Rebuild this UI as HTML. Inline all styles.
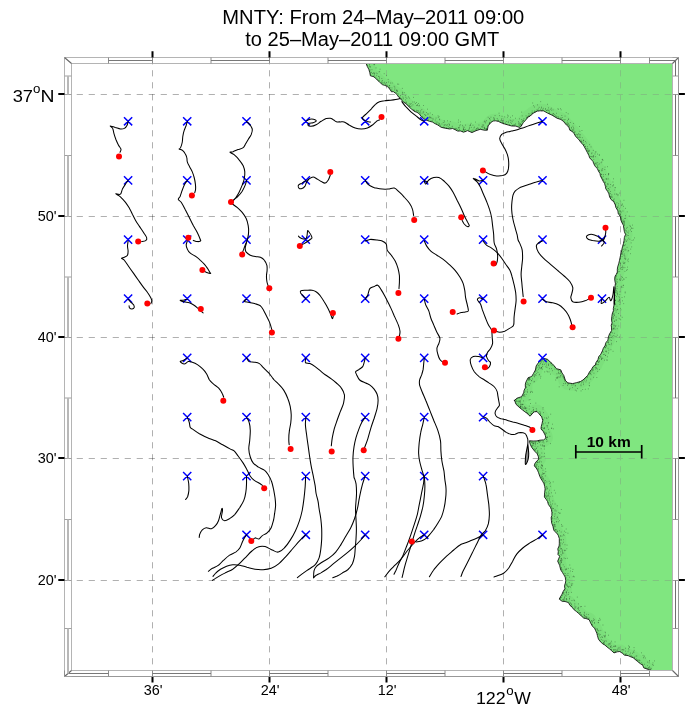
<!DOCTYPE html>
<html><head><meta charset="utf-8"><title>MNTY</title>
<style>html,body{margin:0;padding:0;background:#fff}svg{display:block}</style></head>
<body>
<svg width="691" height="710" viewBox="0 0 691 710">
<rect width="691" height="710" fill="#fff"/>
<defs><clipPath id="lc"><path d="M366.1 63.5L367.2 66.3L368.8 69.3L369.8 72.7L370.4 75.8L373.4 76.6L375.6 78.2L377.7 80.5L379.5 82L382.3 84.6L384.4 85.3L387 86.2L388.6 87.8L389.6 88.9L391.5 91.8L393.3 91.6L395.6 93.3L397.3 94.9L398.6 97.1L401.1 99.4L403.5 102.2L405.9 103.6L409.1 106.9L411.4 109L414.6 111.5L417 112.3L419.5 114L421 116.4L423.6 118.6L425.7 119.9L429.4 121.3L432.4 122L435.1 123.7L437.8 125L441 127.2L443.5 127.9L446 128.3L449.5 129L452.6 128.5L455 129.6L457.5 131L460.7 131L463.6 132.2L467.7 130.6L472 132.6L475.7 130.8L480.3 129.3L484.7 130.3L487.3 130.1L488.2 125.7L490.9 122.4L493.1 121L495.7 120.8L498.6 121.5L501 122.7L504.4 123.9L508.1 125L511.7 126L515.9 126.1L519.7 127.5L521.2 126.2L523.2 122.7L525.4 120.4L528.4 116.7L528.8 117L531.1 115.1L532.9 113.4L537.3 111.1L540.1 110.8L543.7 110.9L547.6 113.1L552.1 115.2L557 118.2L560.9 119.5L563.4 121.3L566.5 125.1L568.9 127.1L569.8 130.2L572.2 131.4L574 133.5L575.8 136.7L578 138.6L579.1 140L580.8 142.3L582.7 144.4L583.9 146L585.9 149.7L587.3 152.4L588.8 155.3L589.7 157.9L592.9 161.3L593.8 163.8L595.3 166.6L597.4 168.6L598.6 171.4L599.9 173.3L600.4 175.7L601.6 178.2L603.3 181.5L604.6 183.6L605.4 186.4L605.8 188.8L607.7 191.5L608.9 193.8L609.6 196.9L611.1 199.6L613.8 201.7L615.2 204.8L615.3 204.8L615.8 207.4L617.9 210.8L618.2 213.4L620.4 216.7L621 220L621.6 222L623.4 225.3L623.8 228.3L624.4 231.7L625.5 234.4L624.4 237.4L624 240.6L623.5 243.3L622.5 246.8L621.9 249.2L621.3 252.5L620.5 255.5L620 257.9L619.5 260.3L618.8 263.3L617.7 266.9L617.3 269.4L617.3 272.1L616.1 274.7L615.2 275.9L614.7 278.2L614.8 280.5L615.4 283.4L615 286.5L615.2 289.1L614.7 292L614.4 294.9L614.1 297.3L613.9 300.3L613.9 302.9L614 305.1L613.3 308.7L613.4 310.7L612.2 314L611.8 316.8L611.5 320.2L612.1 322.9L611.2 325.2L611.5 327.1L611.6 330.5L609.5 334L608.4 336.9L607.9 340.2L605.9 342.7L605.1 345.5L603.3 348.3L602.4 350.9L600.8 354.2L598.7 356.7L598 359.5L595.9 362.7L595.3 365L593.1 366.5L591.5 369.4L589.6 371.7L587.6 375.6L585.9 377.1L583 380L580.3 381.6L576.3 382.7L572.6 383.6L567.6 382.8L565.3 380.3L563.8 375.5L562 372.9L560.7 369.8L556.5 368.7L554 365.6L552.1 363.6L549.5 361.3L547.3 359.2L544.1 358.4L542 359.3L539.1 361.8L537.6 363.8L536.2 365.9L535.4 370L533.5 373.4L531.7 376.5L528.1 377.7L525.7 382.5L525.3 384.7L525.4 387.8L524.1 390.3L523.7 392.7L521.6 396.7L516.9 398.2L514.3 400.6L514.4 399.9L516 404.3L519.7 407.7L522.7 410.1L524.9 411.8L526.9 413.2L530.1 416.2L533.1 412.7L534.5 411.8L537.1 411.6L539 413.8L541.7 416.9L542.7 420.4L542 423.6L541.2 426.8L541 429L543.2 431.4L545.2 435.2L545.9 438L543.7 439.9L539.8 440.2L537 440.9L533.2 441L529.5 440.8L529.5 441.6L530.2 444.2L531.7 447.4L534.7 451.2L537.2 453.8L538.3 456.5L538.8 459.3L537 460.7L534.8 463.7L534.3 465.9L536.1 467.9L537.5 470.2L538.4 472.3L539.7 476.1L540.9 478.7L542.5 481.1L544 483.8L544.7 486.4L545.1 488.9L544.7 492.2L544.5 494.1L544.4 497L546.2 499.4L547.5 501.4L548.4 504.5L550.5 507.4L551.4 509.6L551.9 512.4L551.9 515.4L551.2 517.5L551.4 520.6L551.7 523.1L552.9 526.1L553.7 529.8L554.4 531.1L557.1 533.5L558.2 535.2L559.3 538.5L559.3 541L559.3 543.8L559.1 545.9L557.8 548.9L558.3 551.6L557.9 554.4L559.7 556.3L557.7 561.2L559.6 565.3L560.7 569.8L562.5 572.6L563.8 574.7L565.2 577.1L565.8 580.8L565.4 583L564.5 585.8L564.9 588.7L563.1 591.6L562 594.2L559.2 599.1L562.1 601.3L565 601.5L568.4 602.5L569.9 605.3L572.2 607.2L573.6 609.3L576.4 611.5L578.7 613.5L581.3 615.9L583.8 618.2L585.9 618.5L589.1 619.6L590.6 622.9L592.5 626.4L594.6 628.2L595.6 630.6L596.8 633.1L597.4 635.5L598.4 639L599.8 641L602.7 643.9L604.8 645L607 646.9L609.7 649L611.6 650.7L614 652.9L617.3 651.8L619.9 651.5L622.4 653.3L624.6 655.2L628.1 655.6L630.2 656.6L633.1 657.7L635 659.3L637.6 661.5L640.8 664L642.7 665.1L643.8 667.9L648.8 669.6L651.4 670.5L672.5 670.5L672.5 63.5Z"/></clipPath><clipPath id="mc"><rect x="71.5" y="63.5" width="601" height="607"/></clipPath></defs>
<g fill="none" stroke="#000" stroke-opacity="0.31" stroke-width="1" stroke-dasharray="6.2 5.8" ><path d="M152.5 63.5V670.5" stroke-dashoffset="-6.7"/><path d="M269.5 63.5V670.5" stroke-dashoffset="-6.7"/><path d="M386.5 63.5V670.5" stroke-dashoffset="-6.7"/><path d="M503.5 63.5V670.5" stroke-dashoffset="-6.7"/><path d="M620.5 63.5V670.5" stroke-dashoffset="-6.7"/><path d="M71.5 94.5H672.5" stroke-dashoffset="-5.2"/><path d="M71.5 216.5H672.5" stroke-dashoffset="-5.2"/><path d="M71.5 337.5H672.5" stroke-dashoffset="-5.2"/><path d="M71.5 458.5H672.5" stroke-dashoffset="-5.2"/><path d="M71.5 580.5H672.5" stroke-dashoffset="-5.2"/></g>
<path d="M366.1 63.5L367.2 66.3L368.8 69.3L369.8 72.7L370.4 75.8L373.4 76.6L375.6 78.2L377.7 80.5L379.5 82L382.3 84.6L384.4 85.3L387 86.2L388.6 87.8L389.6 88.9L391.5 91.8L393.3 91.6L395.6 93.3L397.3 94.9L398.6 97.1L401.1 99.4L403.5 102.2L405.9 103.6L409.1 106.9L411.4 109L414.6 111.5L417 112.3L419.5 114L421 116.4L423.6 118.6L425.7 119.9L429.4 121.3L432.4 122L435.1 123.7L437.8 125L441 127.2L443.5 127.9L446 128.3L449.5 129L452.6 128.5L455 129.6L457.5 131L460.7 131L463.6 132.2L467.7 130.6L472 132.6L475.7 130.8L480.3 129.3L484.7 130.3L487.3 130.1L488.2 125.7L490.9 122.4L493.1 121L495.7 120.8L498.6 121.5L501 122.7L504.4 123.9L508.1 125L511.7 126L515.9 126.1L519.7 127.5L521.2 126.2L523.2 122.7L525.4 120.4L528.4 116.7L528.8 117L531.1 115.1L532.9 113.4L537.3 111.1L540.1 110.8L543.7 110.9L547.6 113.1L552.1 115.2L557 118.2L560.9 119.5L563.4 121.3L566.5 125.1L568.9 127.1L569.8 130.2L572.2 131.4L574 133.5L575.8 136.7L578 138.6L579.1 140L580.8 142.3L582.7 144.4L583.9 146L585.9 149.7L587.3 152.4L588.8 155.3L589.7 157.9L592.9 161.3L593.8 163.8L595.3 166.6L597.4 168.6L598.6 171.4L599.9 173.3L600.4 175.7L601.6 178.2L603.3 181.5L604.6 183.6L605.4 186.4L605.8 188.8L607.7 191.5L608.9 193.8L609.6 196.9L611.1 199.6L613.8 201.7L615.2 204.8L615.3 204.8L615.8 207.4L617.9 210.8L618.2 213.4L620.4 216.7L621 220L621.6 222L623.4 225.3L623.8 228.3L624.4 231.7L625.5 234.4L624.4 237.4L624 240.6L623.5 243.3L622.5 246.8L621.9 249.2L621.3 252.5L620.5 255.5L620 257.9L619.5 260.3L618.8 263.3L617.7 266.9L617.3 269.4L617.3 272.1L616.1 274.7L615.2 275.9L614.7 278.2L614.8 280.5L615.4 283.4L615 286.5L615.2 289.1L614.7 292L614.4 294.9L614.1 297.3L613.9 300.3L613.9 302.9L614 305.1L613.3 308.7L613.4 310.7L612.2 314L611.8 316.8L611.5 320.2L612.1 322.9L611.2 325.2L611.5 327.1L611.6 330.5L609.5 334L608.4 336.9L607.9 340.2L605.9 342.7L605.1 345.5L603.3 348.3L602.4 350.9L600.8 354.2L598.7 356.7L598 359.5L595.9 362.7L595.3 365L593.1 366.5L591.5 369.4L589.6 371.7L587.6 375.6L585.9 377.1L583 380L580.3 381.6L576.3 382.7L572.6 383.6L567.6 382.8L565.3 380.3L563.8 375.5L562 372.9L560.7 369.8L556.5 368.7L554 365.6L552.1 363.6L549.5 361.3L547.3 359.2L544.1 358.4L542 359.3L539.1 361.8L537.6 363.8L536.2 365.9L535.4 370L533.5 373.4L531.7 376.5L528.1 377.7L525.7 382.5L525.3 384.7L525.4 387.8L524.1 390.3L523.7 392.7L521.6 396.7L516.9 398.2L514.3 400.6L514.4 399.9L516 404.3L519.7 407.7L522.7 410.1L524.9 411.8L526.9 413.2L530.1 416.2L533.1 412.7L534.5 411.8L537.1 411.6L539 413.8L541.7 416.9L542.7 420.4L542 423.6L541.2 426.8L541 429L543.2 431.4L545.2 435.2L545.9 438L543.7 439.9L539.8 440.2L537 440.9L533.2 441L529.5 440.8L529.5 441.6L530.2 444.2L531.7 447.4L534.7 451.2L537.2 453.8L538.3 456.5L538.8 459.3L537 460.7L534.8 463.7L534.3 465.9L536.1 467.9L537.5 470.2L538.4 472.3L539.7 476.1L540.9 478.7L542.5 481.1L544 483.8L544.7 486.4L545.1 488.9L544.7 492.2L544.5 494.1L544.4 497L546.2 499.4L547.5 501.4L548.4 504.5L550.5 507.4L551.4 509.6L551.9 512.4L551.9 515.4L551.2 517.5L551.4 520.6L551.7 523.1L552.9 526.1L553.7 529.8L554.4 531.1L557.1 533.5L558.2 535.2L559.3 538.5L559.3 541L559.3 543.8L559.1 545.9L557.8 548.9L558.3 551.6L557.9 554.4L559.7 556.3L557.7 561.2L559.6 565.3L560.7 569.8L562.5 572.6L563.8 574.7L565.2 577.1L565.8 580.8L565.4 583L564.5 585.8L564.9 588.7L563.1 591.6L562 594.2L559.2 599.1L562.1 601.3L565 601.5L568.4 602.5L569.9 605.3L572.2 607.2L573.6 609.3L576.4 611.5L578.7 613.5L581.3 615.9L583.8 618.2L585.9 618.5L589.1 619.6L590.6 622.9L592.5 626.4L594.6 628.2L595.6 630.6L596.8 633.1L597.4 635.5L598.4 639L599.8 641L602.7 643.9L604.8 645L607 646.9L609.7 649L611.6 650.7L614 652.9L617.3 651.8L619.9 651.5L622.4 653.3L624.6 655.2L628.1 655.6L630.2 656.6L633.1 657.7L635 659.3L637.6 661.5L640.8 664L642.7 665.1L643.8 667.9L648.8 669.6L651.4 670.5L672.5 670.5L672.5 63.5Z" fill="#80e680"/>
<g fill="none" stroke="#808080" stroke-width="1" stroke-dasharray="6.2 5.8" clip-path="url(#lc)" opacity="0.33"><path d="M152.5 63.5V670.5" stroke-dashoffset="-6.7"/><path d="M269.5 63.5V670.5" stroke-dashoffset="-6.7"/><path d="M386.5 63.5V670.5" stroke-dashoffset="-6.7"/><path d="M503.5 63.5V670.5" stroke-dashoffset="-6.7"/><path d="M620.5 63.5V670.5" stroke-dashoffset="-6.7"/><path d="M71.5 94.5H672.5" stroke-dashoffset="-5.2"/><path d="M71.5 216.5H672.5" stroke-dashoffset="-5.2"/><path d="M71.5 337.5H672.5" stroke-dashoffset="-5.2"/><path d="M71.5 458.5H672.5" stroke-dashoffset="-5.2"/><path d="M71.5 580.5H672.5" stroke-dashoffset="-5.2"/></g>
<path d="M366.1 63.5L367.2 66.3L368.8 69.3L369.8 72.7L370.4 75.8L373.4 76.6L375.6 78.2L377.7 80.5L379.5 82L382.3 84.6L384.4 85.3L387 86.2L388.6 87.8L389.6 88.9L391.5 91.8L393.3 91.6L395.6 93.3L397.3 94.9L398.6 97.1L401.1 99.4L403.5 102.2L405.9 103.6L409.1 106.9L411.4 109L414.6 111.5L417 112.3L419.5 114L421 116.4L423.6 118.6L425.7 119.9L429.4 121.3L432.4 122L435.1 123.7L437.8 125L441 127.2L443.5 127.9L446 128.3L449.5 129L452.6 128.5L455 129.6L457.5 131L460.7 131L463.6 132.2L467.7 130.6L472 132.6L475.7 130.8L480.3 129.3L484.7 130.3L487.3 130.1L488.2 125.7L490.9 122.4L493.1 121L495.7 120.8L498.6 121.5L501 122.7L504.4 123.9L508.1 125L511.7 126L515.9 126.1L519.7 127.5L521.2 126.2L523.2 122.7L525.4 120.4L528.4 116.7L528.8 117L531.1 115.1L532.9 113.4L537.3 111.1L540.1 110.8L543.7 110.9L547.6 113.1L552.1 115.2L557 118.2L560.9 119.5L563.4 121.3L566.5 125.1L568.9 127.1L569.8 130.2L572.2 131.4L574 133.5L575.8 136.7L578 138.6L579.1 140L580.8 142.3L582.7 144.4L583.9 146L585.9 149.7L587.3 152.4L588.8 155.3L589.7 157.9L592.9 161.3L593.8 163.8L595.3 166.6L597.4 168.6L598.6 171.4L599.9 173.3L600.4 175.7L601.6 178.2L603.3 181.5L604.6 183.6L605.4 186.4L605.8 188.8L607.7 191.5L608.9 193.8L609.6 196.9L611.1 199.6L613.8 201.7L615.2 204.8L615.3 204.8L615.8 207.4L617.9 210.8L618.2 213.4L620.4 216.7L621 220L621.6 222L623.4 225.3L623.8 228.3L624.4 231.7L625.5 234.4L624.4 237.4L624 240.6L623.5 243.3L622.5 246.8L621.9 249.2L621.3 252.5L620.5 255.5L620 257.9L619.5 260.3L618.8 263.3L617.7 266.9L617.3 269.4L617.3 272.1L616.1 274.7L615.2 275.9L614.7 278.2L614.8 280.5L615.4 283.4L615 286.5L615.2 289.1L614.7 292L614.4 294.9L614.1 297.3L613.9 300.3L613.9 302.9L614 305.1L613.3 308.7L613.4 310.7L612.2 314L611.8 316.8L611.5 320.2L612.1 322.9L611.2 325.2L611.5 327.1L611.6 330.5L609.5 334L608.4 336.9L607.9 340.2L605.9 342.7L605.1 345.5L603.3 348.3L602.4 350.9L600.8 354.2L598.7 356.7L598 359.5L595.9 362.7L595.3 365L593.1 366.5L591.5 369.4L589.6 371.7L587.6 375.6L585.9 377.1L583 380L580.3 381.6L576.3 382.7L572.6 383.6L567.6 382.8L565.3 380.3L563.8 375.5L562 372.9L560.7 369.8L556.5 368.7L554 365.6L552.1 363.6L549.5 361.3L547.3 359.2L544.1 358.4L542 359.3L539.1 361.8L537.6 363.8L536.2 365.9L535.4 370L533.5 373.4L531.7 376.5L528.1 377.7L525.7 382.5L525.3 384.7L525.4 387.8L524.1 390.3L523.7 392.7L521.6 396.7L516.9 398.2L514.3 400.6L514.4 399.9L516 404.3L519.7 407.7L522.7 410.1L524.9 411.8L526.9 413.2L530.1 416.2L533.1 412.7L534.5 411.8L537.1 411.6L539 413.8L541.7 416.9L542.7 420.4L542 423.6L541.2 426.8L541 429L543.2 431.4L545.2 435.2L545.9 438L543.7 439.9L539.8 440.2L537 440.9L533.2 441L529.5 440.8L529.5 441.6L530.2 444.2L531.7 447.4L534.7 451.2L537.2 453.8L538.3 456.5L538.8 459.3L537 460.7L534.8 463.7L534.3 465.9L536.1 467.9L537.5 470.2L538.4 472.3L539.7 476.1L540.9 478.7L542.5 481.1L544 483.8L544.7 486.4L545.1 488.9L544.7 492.2L544.5 494.1L544.4 497L546.2 499.4L547.5 501.4L548.4 504.5L550.5 507.4L551.4 509.6L551.9 512.4L551.9 515.4L551.2 517.5L551.4 520.6L551.7 523.1L552.9 526.1L553.7 529.8L554.4 531.1L557.1 533.5L558.2 535.2L559.3 538.5L559.3 541L559.3 543.8L559.1 545.9L557.8 548.9L558.3 551.6L557.9 554.4L559.7 556.3L557.7 561.2L559.6 565.3L560.7 569.8L562.5 572.6L563.8 574.7L565.2 577.1L565.8 580.8L565.4 583L564.5 585.8L564.9 588.7L563.1 591.6L562 594.2L559.2 599.1L562.1 601.3L565 601.5L568.4 602.5L569.9 605.3L572.2 607.2L573.6 609.3L576.4 611.5L578.7 613.5L581.3 615.9L583.8 618.2L585.9 618.5L589.1 619.6L590.6 622.9L592.5 626.4L594.6 628.2L595.6 630.6L596.8 633.1L597.4 635.5L598.4 639L599.8 641L602.7 643.9L604.8 645L607 646.9L609.7 649L611.6 650.7L614 652.9L617.3 651.8L619.9 651.5L622.4 653.3L624.6 655.2L628.1 655.6L630.2 656.6L633.1 657.7L635 659.3L637.6 661.5L640.8 664L642.7 665.1L643.8 667.9L648.8 669.6L651.4 670.5" fill="none" stroke="#206020" stroke-opacity="0.05" stroke-width="14" stroke-linejoin="round" clip-path="url(#lc)"/>
<path d="M366.7 64.3h.7M373.4 63.8h.7M369.2 64.4h.7M367 65.5h.7M368.9 66.4h.7M373.9 64.5h.7M373.4 63.7h.7M369.1 65.1h.7M369.8 67h.7M369.9 66.8h.7M373.9 64.7h.7M371.6 69.7h.7M369.7 71h.7M370.5 72.7h.7M379.7 69.2h.7M375.7 67.9h.7M369.7 69.8h.7M375.8 73h.7M373.7 72.7h.7M371.2 72.4h.7M370.2 74.1h.7M378.7 71.8h.7M374.1 73.9h.7M372.3 73.5h.7M373.3 76.5h.7M373.3 76h.7M374.2 73.8h.7M373.3 73.1h.7M375.6 77.2h.7M374.3 75.9h.7M376.4 75.4h.7M376.8 73.6h.7M379.4 71.6h.7M378.1 76.4h.7M377.3 79.2h.7M377.9 80.2h.7M379.3 77.7h.7M378.7 76.5h.7M381.5 78.5h.7M383.8 73.7h.7M379.1 80.5h.7M379.2 78.8h.7M381.5 81.2h.7M381.3 83h.7M381.6 82.4h.7M382.2 83.2h.7M382 80.6h.7M384.2 82.2h.7M384.7 83.4h.7M383.5 82.9h.7M386 75.4h.7M388 82h.7M387.8 79.4h.7M387.1 85.3h.7M385.2 84.4h.7M386 82.5h.7M388.5 86.4h.7M389.1 85.6h.7M389.4 85.5h.7M390.2 83h.7M389.6 88h.7M388.8 87.8h.7M389.5 87.6h.7M391.6 90.1h.7M398.4 84.2h.7M394.5 87.2h.7M397.2 84.1h.7M394.6 88.9h.7M393.8 86.3h.7M391.8 83h.7M391.3 90.2h.7M391.6 87.9h.7M396.4 90.6h.7M396.3 90h.7M396.8 90.3h.7M396.7 91.1h.7M394.4 90.1h.7M395.8 92.3h.7M395.6 92.9h.7M397 93.9h.7M397.1 91.4h.7M401.9 88.4h.7M402 92.3h.7M403.9 92.6h.7M398 94.1h.7M400.1 95.5h.7M402.1 93.1h.7M399 97.4h.7M400.9 99.1h.7M402.5 94.4h.7M399.9 97.2h.7M402.5 97h.7M401.1 98.9h.7M399 97.2h.7M408.3 96.9h.7M405.5 97.3h.7M406.5 98.3h.7M405.2 99.9h.7M402.6 99.1h.7M404.9 95.6h.7M403 98.1h.7M406.1 102h.7M406.2 103.2h.7M405.6 102.7h.7M409.1 98.1h.7M404.6 102.1h.7M406.7 104.4h.7M409.2 105.4h.7M408.8 106.2h.7M410.2 104.2h.7M410.8 103.6h.7M413 97.4h.7M408.8 103.8h.7M412.5 102h.7M408.5 105.3h.7M416.3 102.5h.7M412.6 104.8h.7M410 106.5h.7M411.5 106h.7M415 103.5h.7M414.1 102h.7M416 105.5h.7M414.3 111h.7M414.1 110.6h.7M413.3 110.1h.7M417.4 105.5h.7M419 105.3h.7M413.6 109.7h.7M417 104.6h.7M416.2 110.3h.7M417.6 110.5h.7M418.2 103.5h.7M418.7 105.9h.7M416.8 111.1h.7M419.1 112.5h.7M423 105.5h.7M420.2 112h.7M420.5 110.7h.7M418.4 111.2h.7M421.5 109.5h.7M423.4 112h.7M420.6 113.3h.7M422.6 113.2h.7M422.8 112h.7M426 112.5h.7M424 114.5h.7M423.6 117.3h.7M425.4 115.2h.7M422.2 116.4h.7M425.4 115.3h.7M427.3 109.2h.7M424.7 119h.7M425.8 119.6h.7M427.6 113.9h.7M429.8 113h.7M429.5 116.6h.7M426.7 119.5h.7M427.9 119.3h.7M430.1 117.7h.7M429.3 117.7h.7M427.7 114.1h.7M429.8 117.7h.7M427.8 120.4h.7M431.2 118h.7M431.9 120.8h.7M432.6 118.4h.7M432.1 114.6h.7M430.6 120.9h.7M432.7 119.4h.7M438.7 116.6h.7M437.9 117.4h.7M435.7 118.1h.7M434.9 120h.7M437.7 115.8h.7M436.2 123.6h.7M437.9 123.1h.7M439.4 119.8h.7M439 119.2h.7M436.8 122.1h.7M435.7 122.1h.7M438.4 124.4h.7M439.2 124.3h.7M443.8 120.6h.7M442.9 122.5h.7M439.2 123.4h.7M440 125.3h.7M441.6 124h.7M443.1 127.1h.7M442.7 127.5h.7M443.8 124.9h.7M443.9 125.2h.7M444 121.9h.7M444.2 127.5h.7M445.9 128.2h.7M446.1 128h.7M445.4 124.8h.7M446.4 125.3h.7M448.6 123.9h.7M449 124.6h.7M449.4 127.5h.7M447.8 126.6h.7M447.3 124.8h.7M448.3 128.4h.7M447.3 120.8h.7M451.7 127.2h.7M449.9 121.6h.7M449.9 128h.7M449 125.3h.7M451.9 126.3h.7M455.8 128.5h.7M454.4 128.6h.7M454.8 129.4h.7M457.9 122.2h.7M458.1 120h.7M459.9 124.8h.7M457 129.6h.7M456.1 130h.7M455.5 128.3h.7M460.1 121.9h.7M459.4 125.9h.7M459 127.7h.7M458.2 130.9h.7M457.9 128h.7M458.1 127.6h.7M459 129.4h.7M464 129.9h.7M462.2 131h.7M464 131h.7M465.2 125.1h.7M462 131.5h.7M462.7 126.8h.7M463.3 128.9h.7M463.2 130.1h.7M462.2 125.4h.7M463.4 129.6h.7M462.9 129.4h.7M463.9 127.3h.7M463.3 128.1h.7M465.1 131.6h.7M465.1 129.4h.7M470.9 127.4h.7M473.6 127.9h.7M472.6 125.2h.7M469.1 127.3h.7M470.8 132.1h.7M470.8 131h.7M468.5 129.3h.7M468.4 131h.7M469.2 128.7h.7M472.6 131.5h.7M470 124.7h.7M470.1 125.3h.7M474.8 131.1h.7M475.2 129.8h.7M473.5 130.2h.7M469.6 125.5h.7M470.7 123.3h.7M471.9 130.1h.7M478 128.9h.7M476 128.5h.7M479.9 128.8h.7M476.1 130.3h.7M477.6 128.1h.7M477.2 128.1h.7M476.3 129.2h.7M474.3 127.1h.7M475 122.1h.7M481.9 125h.7M482.2 126.8h.7M484.7 128.6h.7M485.5 121.7h.7M485.2 122.9h.7M484.1 128.3h.7M484.4 128.8h.7M484.2 121.1h.7M482.6 127.1h.7M486.4 129.8h.7M485.8 129.4h.7M486.6 129.8h.7M485.9 120.5h.7M487.1 130h.7M483.4 125h.7M483.8 127.2h.7M481 126.8h.7M486.1 128.5h.7M487.2 126.2h.7M484 127.7h.7M482.8 125.2h.7M478.6 125h.7M486.1 128.8h.7M483.9 121.9h.7M489.4 122.8h.7M489.8 123.1h.7M489 122.4h.7M489.2 123.9h.7M488.2 125.5h.7M488.9 123.6h.7M489.3 118.8h.7M487.8 117.3h.7M489.4 118.6h.7M490 120.1h.7M490.6 117.2h.7M494.7 115.6h.7M493.7 119.1h.7M493.8 118.3h.7M493.4 117.7h.7M493.9 119.5h.7M497.9 120.6h.7M496.8 118.5h.7M498.2 120.3h.7M498.7 113.2h.7M499.1 115.6h.7M497.1 120.2h.7M501.7 116.3h.7M501.5 118.6h.7M501.1 119.7h.7M500 121h.7M501.2 120.6h.7M502 122.3h.7M502.4 120.5h.7M507.3 115.1h.7M502.8 120.7h.7M504.4 116.9h.7M502.4 121.8h.7M503.2 122.8h.7M505 123h.7M507.9 121.3h.7M505.9 121.5h.7M507.9 122.5h.7M506.4 124.3h.7M507 117.2h.7M508.1 116h.7M509.7 120.1h.7M511.8 121.6h.7M510.6 120.6h.7M510.1 117.3h.7M512.7 120.2h.7M509.3 124.6h.7M511 123.4h.7M510.4 122.4h.7M512.6 125.2h.7M515 123.8h.7M514.7 124.7h.7M512.3 125.5h.7M513.6 125.1h.7M512.3 115.8h.7M513.8 125.1h.7M522 121.6h.7M519.4 127.2h.7M520.8 124.7h.7M518.2 123.1h.7M519 123h.7M521.1 119.6h.7M519.6 125.9h.7M518.7 124.9h.7M521 125.8h.7M518.7 124h.7M518.9 125.2h.7M520.3 124.3h.7M520.6 124.9h.7M520.9 125.6h.7M515 118.3h.7M521 122h.7M518.3 121.6h.7M521.3 125h.7M520.1 123.6h.7M522.8 120.2h.7M519.3 118.8h.7M522.4 121h.7M522.8 120.2h.7M523.3 120.6h.7M523.6 118.6h.7M527.9 116h.7M521.8 115.9h.7M527.2 116.7h.7M526.8 117.7h.7M521.4 112.1h.7M525.7 115.8h.7M526.4 117.4h.7M528 116.3h.7M526.6 117.9h.7M528.9 115.7h.7M529.2 116.3h.7M528.4 113.8h.7M529.6 114h.7M530.7 115.3h.7M531.9 114h.7M531.9 112.7h.7M532.3 113.3h.7M531.1 113.1h.7M531.8 111h.7M534.4 111.2h.7M536.8 110.1h.7M533.3 105.7h.7M532.4 103h.7M534.1 107h.7M535.1 111.8h.7M536.6 110.1h.7M534.2 111.3h.7M537.9 108.9h.7M537.2 104.9h.7M538.8 107.3h.7M540 109.3h.7M537.8 110.9h.7M541 110.8h.7M542.9 108.3h.7M540.4 101.7h.7M541 107.1h.7M541.1 108h.7M542.5 110.3h.7M542.5 109.3h.7M548.1 107.9h.7M547.3 104.3h.7M545.3 109h.7M546.3 110.5h.7M547.1 110.1h.7M548.5 110.4h.7M546.6 110.3h.7M545 108.9h.7M548.6 110.2h.7M548.9 111.8h.7M552 114.7h.7M552.7 113.6h.7M551.2 110.1h.7M550 109.2h.7M552.7 109.9h.7M548.8 112.8h.7M551 108.2h.7M549.1 113.7h.7M557.5 108.8h.7M555.5 115.4h.7M556.2 113.3h.7M558 109.3h.7M553.1 113.6h.7M553.2 115.4h.7M560.2 108.7h.7M556.1 117h.7M554.7 116.3h.7M556.7 116.6h.7M554 114.5h.7M558.3 116.9h.7M560.8 109.9h.7M558.4 118.1h.7M560.2 118h.7M561.5 115.5h.7M561 118.2h.7M561.9 117.5h.7M562.4 119.8h.7M567.8 113.8h.7M564.7 116.1h.7M565.8 112.6h.7M564.7 119.5h.7M563.6 119.7h.7M568.3 119.1h.7M568 119.3h.7M565.5 122.9h.7M567.3 120.8h.7M567.9 123.5h.7M567.2 124.3h.7M563.8 121.2h.7M566.4 123.4h.7M569.9 122.5h.7M567.4 122.7h.7M567.5 124.4h.7M567.9 124.8h.7M569.3 125.2h.7M568 126.1h.7M569 126.1h.7M571.3 127.4h.7M573.5 128.8h.7M572.6 126.2h.7M570 129.8h.7M573.2 127.7h.7M571 128.2h.7M571.8 131.1h.7M571.9 129.7h.7M572.1 131.1h.7M573.3 123.5h.7M572.8 129.8h.7M574.4 132.2h.7M574.2 132.8h.7M574.7 131.8h.7M579 126.5h.7M573.5 130.8h.7M576 134.3h.7M575.2 134.7h.7M581.6 130.5h.7M578.9 134.4h.7M578.2 133.7h.7M579.5 131.3h.7M578.9 136.1h.7M577 135h.7M580.3 134.8h.7M578.3 137.4h.7M577.5 134.6h.7M577.1 136.9h.7M581.9 137.7h.7M579.3 137.4h.7M580 137.3h.7M580.7 140h.7M581.1 142h.7M580.7 140.9h.7M579.9 141h.7M582.9 140.2h.7M585 141.5h.7M581.6 141.8h.7M583 140.8h.7M583.4 140.4h.7M581.2 141.8h.7M582.8 142.6h.7M585.8 143h.7M583.8 144.7h.7M583.4 144.7h.7M583.7 144.6h.7M585.1 146.5h.7M590.7 146.9h.7M587.3 146.7h.7M585.3 146.3h.7M586.9 148.6h.7M585.7 148.7h.7M587.7 149.1h.7M589.1 144.6h.7M587.8 151.5h.7M588.1 150.6h.7M587.3 150.4h.7M588.5 151.6h.7M588.8 151.1h.7M589.1 150.3h.7M595 152h.7M595.7 151.9h.7M591.6 152.8h.7M592.9 150.4h.7M591.4 153.7h.7M588.1 153.2h.7M593.4 156.1h.7M597.2 154.1h.7M592.7 156.3h.7M590.3 156.6h.7M591.3 156.7h.7M593.2 155.9h.7M591.7 156.7h.7M593.5 159.4h.7M594.7 153.9h.7M598.9 154.7h.7M598.9 155.3h.7M592.8 157.3h.7M595.1 156.7h.7M594.6 163.3h.7M595.9 162.9h.7M601.9 159.4h.7M597.4 162.6h.7M601.9 159.7h.7M594.6 164.2h.7M595.1 163.3h.7M597.7 164.3h.7M601.5 161.9h.7M600.8 162.7h.7M596.1 164.1h.7M597.4 165.9h.7M596.9 167.3h.7M602.6 160.3h.7M597.7 167.5h.7M597 166.2h.7M599.3 163.9h.7M598.9 170.7h.7M604.7 167.1h.7M599.3 170.7h.7M601.6 169.3h.7M598.6 171.1h.7M602.4 168.7h.7M607.1 166.7h.7M604.5 169.5h.7M601.7 170.5h.7M601.5 170.8h.7M601.1 174.3h.7M601.3 174.5h.7M608.2 173.9h.7M605.1 174.5h.7M608.5 173.8h.7M603.3 176.3h.7M601.5 177.1h.7M608.2 174h.7M602.9 174.5h.7M600.6 176h.7M605.7 178.9h.7M603.5 179.6h.7M606.5 179.1h.7M601.9 178.1h.7M608.2 174.9h.7M603.3 180.1h.7M606.4 178.9h.7M605.2 182.1h.7M604.2 182h.7M607.9 178.9h.7M604.8 182.8h.7M613.1 178.8h.7M607.6 184.6h.7M607.6 184.2h.7M612.6 182h.7M607.5 183.5h.7M610.2 184.5h.7M606.5 186.2h.7M612.9 185.8h.7M609.7 187.2h.7M606 186.6h.7M613.1 184.7h.7M608.8 189.7h.7M607.8 190.7h.7M607.7 188.5h.7M608.3 188.5h.7M612.1 185.9h.7M609.2 193.1h.7M615.3 187.7h.7M614.5 190.1h.7M614.5 187.7h.7M610.1 191.5h.7M611.5 194.7h.7M616.7 194.2h.7M610.5 196.3h.7M609.9 196.6h.7M611.4 196.2h.7M610.3 193.6h.7M610.1 197.1h.7M611.8 197h.7M614.4 194.1h.7M617.7 194.6h.7M611.5 197.5h.7M613.4 200h.7M617.6 195.6h.7M613.8 201.5h.7M613.8 199h.7M613.3 200.3h.7M616.3 194h.7M619.5 193.1h.7M618.1 203.8h.7M615.5 203.9h.7M616.6 202.7h.7M619.9 201.1h.7M623.6 200.3h.7M617.2 207.4h.7M617.9 205.8h.7M616.7 206.7h.7M621.7 205h.7M615.3 204.6h.7M622.2 204h.7M617.4 209.8h.7M619.1 208.8h.7M617.1 208.1h.7M623.1 206.3h.7M617.7 207.3h.7M621.2 205.3h.7M619.6 210.5h.7M620.9 212.1h.7M618.9 211.8h.7M619.9 211.2h.7M620 211.9h.7M625 208.4h.7M620.4 213.7h.7M618.5 213.5h.7M619.2 213.7h.7M620.1 215h.7M626.8 211.9h.7M620 214.6h.7M622.6 211h.7M620.9 216.9h.7M628.8 216.1h.7M625 215.8h.7M621.4 219.2h.7M624.4 218.5h.7M625.2 218.4h.7M621.3 218.1h.7M621.9 220.9h.7M623.3 221.7h.7M623 220.1h.7M624 221.1h.7M624.3 224.9h.7M623.8 222.2h.7M622 222.3h.7M624.3 222.1h.7M622.8 221.8h.7M622.9 223.4h.7M624 223.6h.7M626.9 227.4h.7M624 225.2h.7M632.1 225.1h.7M630.2 226.6h.7M629.6 225.7h.7M624.3 228.2h.7M626.2 228.3h.7M625.1 230h.7M631.5 228.5h.7M630.3 229.9h.7M625.8 230.5h.7M632.6 228.3h.7M631.2 227.9h.7M626.9 232.2h.7M628.5 231h.7M625.8 231.6h.7M631.3 231.5h.7M628 233h.7M633 239.9h.7M627 235.3h.7M626 234.3h.7M628.1 235.5h.7M634.2 237.9h.7M625.9 236.1h.7M627.4 239.9h.7M629.5 239.3h.7M628.4 238.2h.7M625.1 239.8h.7M631.7 240.4h.7M623.6 242.5h.7M626 241.2h.7M624.2 241.8h.7M630.8 242.9h.7M625.8 241.2h.7M631.4 246.9h.7M623.7 245.8h.7M623 245.1h.7M626.7 247.4h.7M624.1 245.4h.7M622.8 246h.7M625.2 244.8h.7M625.6 249.8h.7M622.9 249.4h.7M630.4 249.1h.7M624.7 248.9h.7M622.2 252.2h.7M622.2 249.9h.7M624.6 250.1h.7M628.4 250.6h.7M630.3 253.7h.7M623 251.7h.7M627.7 251h.7M621.5 254.2h.7M623.9 254h.7M622.4 254.2h.7M623.7 255.3h.7M624.5 256h.7M621.7 253.4h.7M624.6 257.2h.7M625.4 258.8h.7M627.9 259h.7M621.7 256.5h.7M624.1 258.6h.7M627.4 260.1h.7M625.3 259.1h.7M627.8 261.6h.7M620.2 259h.7M620.3 258.2h.7M622.8 262.2h.7M624 263.4h.7M624.5 262.5h.7M620.1 263.5h.7M619.8 262.9h.7M623.3 263.5h.7M622 266.1h.7M621.1 267.5h.7M622.6 267.3h.7M627 267.1h.7M620.3 265h.7M624.6 267.6h.7M622.6 267.8h.7M622.2 269.4h.7M626.9 269.6h.7M617.8 269.6h.7M619.9 268.3h.7M619.4 271.5h.7M626.1 270.3h.7M624.6 271.4h.7M618.2 271.7h.7M620.7 269.4h.7M625.7 277.6h.7M617.2 273h.7M617.2 273h.7M621.4 276.7h.7M615.4 275.8h.7M615.8 276.2h.7M616.1 275.8h.7M622.1 277.5h.7M615.6 278.3h.7M623.8 279.2h.7M620.7 278.9h.7M615.4 277.9h.7M614.9 280.2h.7M619.1 279.1h.7M619.4 279.9h.7M617.2 279.3h.7M620.1 280.3h.7M617.1 282.1h.7M616 279.9h.7M622.4 280.3h.7M616.4 281.8h.7M623.2 279h.7M621.4 286.4h.7M615.6 283.7h.7M615.9 283.9h.7M622.6 287.3h.7M623.1 285.3h.7M615.5 284.2h.7M616.8 286.4h.7M616.7 288.6h.7M621.1 287.3h.7M615.4 288.1h.7M622.8 285.4h.7M617.1 292h.7M624.8 292h.7M616.1 290.4h.7M624.8 292.9h.7M616.3 292h.7M619.6 291.8h.7M617.4 294.9h.7M619.5 294.6h.7M615.3 292.3h.7M617.2 294h.7M616.8 293.5h.7M624.1 296.8h.7M621.7 297.5h.7M618.6 296.6h.7M615.3 295.3h.7M616 296.6h.7M614.8 300.2h.7M615.1 300.3h.7M619 299.5h.7M614.3 299.6h.7M619.1 297.8h.7M618.8 300.8h.7M619.6 302.2h.7M622.1 300.8h.7M617.8 301.3h.7M619.3 300.4h.7M615 300.5h.7M619.5 304.4h.7M623.4 303.6h.7M615.4 304.5h.7M614.7 303.4h.7M617.4 309.3h.7M620.1 308.4h.7M616.6 306.2h.7M614.4 304.8h.7M620.6 309.8h.7M614.5 308.8h.7M616.4 310.1h.7M614.8 308.8h.7M614.6 310.4h.7M617.4 309.6h.7M612.7 313.5h.7M621.8 317.3h.7M618.3 313.5h.7M613.1 311.8h.7M613.9 313.9h.7M615.7 312.1h.7M613 314.7h.7M620.4 315.9h.7M613.2 316.4h.7M614.1 315.1h.7M614.1 315.6h.7M618.7 318.3h.7M615.7 317h.7M612.9 318.6h.7M616.3 320h.7M613 317.8h.7M611.8 317.8h.7M612.3 320h.7M615.6 320h.7M620.4 319.8h.7M613.9 321.4h.7M619.6 319h.7M614.2 321.1h.7M613.8 325.7h.7M613.6 324.2h.7M613.5 325.9h.7M612.1 324.4h.7M615.5 325.5h.7M615 326.6h.7M618.5 326h.7M613 328.9h.7M613 328.1h.7M612.8 328.5h.7M614.7 329.2h.7M616.8 328.7h.7M614.3 328.1h.7M612.6 329.4h.7M616.9 335.2h.7M615.9 336.8h.7M611.3 332.4h.7M619.1 337h.7M613.9 333.3h.7M612.2 332.9h.7M613.5 335.5h.7M609.7 334.5h.7M612.6 337.8h.7M612.4 336.3h.7M610.5 335.4h.7M614.7 336.7h.7M611.2 337.4h.7M609.8 340h.7M610.6 337.4h.7M609 337.3h.7M616.2 341.6h.7M608.8 338.2h.7M611 340.5h.7M608.3 341h.7M607.2 342.5h.7M611.2 343.3h.7M608 342.2h.7M608.2 342.6h.7M608 344.1h.7M610.8 344.7h.7M605.5 345.4h.7M609 344.5h.7M605.8 345.8h.7M606.1 345.1h.7M607.7 348.3h.7M610.6 349.7h.7M604.7 347.2h.7M605.9 346.6h.7M605.2 347.7h.7M604.8 347.7h.7M608.5 350.2h.7M605.1 351.3h.7M608.2 353h.7M612.7 351.3h.7M605.9 351.1h.7M606.1 351.8h.7M605 355.3h.7M602.1 351.7h.7M603.2 352.1h.7M605.2 355.5h.7M607.2 356.8h.7M603 354.5h.7M604 354.3h.7M601.3 358.1h.7M599.5 356.7h.7M600.6 356.3h.7M601.7 358.2h.7M602.5 358.3h.7M600.3 357.1h.7M601 359.4h.7M599.2 358.5h.7M601.2 359.1h.7M604 360.2h.7M606.3 360h.7M607.3 360.1h.7M597.1 361.4h.7M597.6 360.7h.7M598 362h.7M599.1 361h.7M597.5 361.4h.7M598 362.6h.7M598.9 361.8h.7M596.9 364.6h.7M596.2 363.9h.7M596.2 364.3h.7M598.3 364.6h.7M596.3 368h.7M594.9 365.7h.7M596.3 368h.7M597.3 369h.7M594.7 367.3h.7M592.9 369.9h.7M599 369.5h.7M595.3 367.7h.7M597.4 371.4h.7M592.9 368h.7M595.4 369.1h.7M592.3 369.6h.7M590.3 371.3h.7M591.7 371.8h.7M591.7 370.4h.7M593.6 373.2h.7M592.6 370.1h.7M590.8 374.7h.7M596.5 377.5h.7M590.2 373.7h.7M589.4 373.9h.7M590.4 373h.7M589.6 373.1h.7M593.2 377.3h.7M586.4 377h.7M586.9 377.6h.7M587.4 376.7h.7M590.4 379.1h.7M586.1 380.2h.7M589.3 385.8h.7M585.6 381.9h.7M588.8 385.3h.7M583.9 379.7h.7M585.4 378.7h.7M588.9 383h.7M583.7 380.8h.7M583.2 384.6h.7M587.9 388.9h.7M583.3 383h.7M584.9 389.3h.7M582.5 381.9h.7M581.3 382.9h.7M579.2 382.3h.7M580.6 384.8h.7M580.7 385.7h.7M579 382.1h.7M577.9 383.2h.7M580.7 390.9h.7M582.4 389.5h.7M573.5 384.8h.7M577.3 388.5h.7M576.1 390.9h.7M572.8 383.9h.7M574.9 390.2h.7M575.2 385.4h.7M574.8 386h.7M571.6 385.3h.7M567.2 385.5h.7M569.1 389.6h.7M568.4 383.5h.7M569.6 388.3h.7M567 383.2h.7M572 387.6h.7M567.7 384.5h.7M571.2 383.9h.7M566.5 382h.7M565.3 383.1h.7M563 383.6h.7M558.8 386.8h.7M564.8 383.7h.7M562.7 385.5h.7M564.5 381.4h.7M559.4 377.1h.7M563.9 377.4h.7M565 380.5h.7M564.6 379.4h.7M563.1 378.2h.7M562.4 376h.7M562.8 377.4h.7M564.4 380.3h.7M562.9 376.3h.7M564.3 379h.7M560.1 375.5h.7M561 374.9h.7M560.4 376.8h.7M557.5 377.6h.7M555.4 380h.7M557.7 376.7h.7M558.1 372.5h.7M560.3 371.5h.7M561.3 372.2h.7M560.6 370.8h.7M558.8 373.7h.7M560.3 373.4h.7M560.4 372.1h.7M556.6 373.8h.7M559.2 369.7h.7M558.5 373.3h.7M556.7 378.5h.7M556.5 369.4h.7M557.7 370h.7M556.8 377.6h.7M555.9 377.8h.7M558.2 370.8h.7M551 368.6h.7M547.4 371.9h.7M550 374.1h.7M552.2 370.7h.7M554.3 366.5h.7M554.6 369.1h.7M554.3 366.9h.7M548.7 371.9h.7M549.2 368.6h.7M552.6 365.2h.7M551.4 363.6h.7M546.6 371.2h.7M551.6 365.3h.7M548.3 365.3h.7M550.4 363.8h.7M550.7 363h.7M548.2 364h.7M548.1 364.9h.7M546.2 365h.7M545.7 363.2h.7M542.4 364.4h.7M546 361.9h.7M541.3 367.7h.7M549.3 361.4h.7M547.7 360.1h.7M545.8 359.7h.7M544.8 361h.7M544.7 361.1h.7M546.2 359.8h.7M546.7 359.8h.7M544.2 360.2h.7M543.3 361.9h.7M546.6 367.4h.7M544.2 359.3h.7M540 361.2h.7M541.6 360.2h.7M541.8 360.8h.7M542.4 364.1h.7M540.5 361.7h.7M544 364.3h.7M541.3 362h.7M540 363.8h.7M539.2 365h.7M539.8 363.2h.7M545.5 366.8h.7M542.1 366.4h.7M542.3 369.2h.7M538.2 365.9h.7M537.8 365.5h.7M539.3 367.1h.7M541 368.7h.7M538.8 367.9h.7M539.8 368.6h.7M544.4 371.9h.7M536.2 368.9h.7M538 369.3h.7M536.8 367.3h.7M540.7 367.7h.7M541.3 367.5h.7M536.7 371h.7M536.1 373.6h.7M537.6 372.5h.7M535.1 371.8h.7M538.8 374.9h.7M535.5 370.7h.7M539 374.3h.7M540.5 376.3h.7M535 374.6h.7M540.3 378.1h.7M535.6 375.5h.7M534 376.8h.7M533.8 376.2h.7M534.2 374.4h.7M533.7 375.5h.7M532.1 378.9h.7M529.3 378.1h.7M528.6 378.4h.7M529.1 380h.7M528.9 378.7h.7M529.1 379.1h.7M528.8 377.9h.7M533.9 381.4h.7M526.8 382.5h.7M533.7 381.9h.7M527.9 380h.7M531.1 380.5h.7M528.2 379.9h.7M529.8 379.4h.7M528.4 378.8h.7M531.4 380.8h.7M528.4 378.9h.7M526.8 383.9h.7M528.5 383.9h.7M525.7 384.5h.7M530.1 383.7h.7M527.7 384.7h.7M525.9 387.1h.7M528.8 385.7h.7M526.1 387.1h.7M528.9 385.4h.7M531.6 391.4h.7M527.1 392.1h.7M527.2 389.8h.7M530.3 392.5h.7M532 392.4h.7M525.5 391.1h.7M530.5 391.6h.7M523.8 392.5h.7M526.9 391.9h.7M523.4 396h.7M524.6 396.4h.7M525.8 394.4h.7M523.8 394.8h.7M523.4 395.1h.7M528.7 399.9h.7M522.6 395.6h.7M524 394.9h.7M529.7 399.5h.7M519 401h.7M518.5 400.9h.7M521.7 406.1h.7M522 404.4h.7M522.5 404.3h.7M521.1 397.4h.7M519.4 398.1h.7M517.5 398.5h.7M520.2 406.3h.7M521 398.8h.7M519.9 401.8h.7M520.3 404.3h.7M519.7 402.3h.7M517.7 403.9h.7M516 399.7h.7M516.5 400.7h.7M521.9 407.2h.7M520 400.3h.7M516.7 401.7h.7M523.3 400.9h.7M516.5 401.4h.7M515.9 403.7h.7M515.4 400h.7M518.1 401.8h.7M515.3 401.7h.7M519.5 401.6h.7M519.1 407h.7M519.5 407.5h.7M520.6 404h.7M517.9 405.2h.7M520.4 406.4h.7M520.6 406.8h.7M520.1 407.3h.7M519.7 405.4h.7M521.1 404.6h.7M520.2 406.6h.7M522.9 408.2h.7M524.6 407.6h.7M522.7 408.1h.7M524.4 406.5h.7M520.5 408.1h.7M522.6 404.5h.7M525.4 408.1h.7M524.9 408h.7M523.2 410.2h.7M524.2 408.3h.7M525.5 408.3h.7M526.4 410.4h.7M526.4 410.9h.7M528.9 406.1h.7M528.8 409h.7M526.3 412.4h.7M533.4 411.5h.7M530.8 413.7h.7M531.3 411.5h.7M532.7 407.5h.7M533.1 410.1h.7M526.9 412.7h.7M530.3 413.2h.7M531.3 414.4h.7M529.6 415.5h.7M531.2 414.3h.7M527.5 413.2h.7M524.8 408.9h.7M531.9 413.6h.7M532.7 412.6h.7M526.5 408.1h.7M527.7 413.7h.7M532.6 410.9h.7M533.2 409.4h.7M530 403.5h.7M536.2 411.3h.7M535.1 411.5h.7M535.9 408.7h.7M535.5 403.1h.7M536.4 410.2h.7M540.3 412.2h.7M539.4 411.6h.7M542.7 407.5h.7M542.6 409h.7M541.6 416.6h.7M539.8 413.5h.7M539.7 413.9h.7M540.2 414.9h.7M543.2 412.6h.7M540.3 415.3h.7M548.2 417.1h.7M550.4 414.2h.7M542.9 419.7h.7M546.6 418.5h.7M544.4 417.9h.7M542.5 419.8h.7M546.2 417.8h.7M542.5 421.8h.7M548.4 422.6h.7M544.9 423h.7M547.9 423.2h.7M552.3 424.2h.7M551.2 428.4h.7M542.7 424.9h.7M546.5 425.7h.7M551.4 428.1h.7M546.9 427h.7M543.3 423.7h.7M541.4 427.8h.7M541.7 427.5h.7M543.8 428.2h.7M543.7 428.4h.7M542.1 429.3h.7M547 425.7h.7M543.3 431h.7M544.2 428.7h.7M544.1 427.6h.7M543 428.3h.7M544.2 432.1h.7M546.1 433.4h.7M548.8 432.2h.7M545.7 432.8h.7M548.1 429.4h.7M552.9 428.8h.7M545.1 434.5h.7M545.2 433.2h.7M549.5 436.3h.7M546.8 437.5h.7M547.1 437.4h.7M546 437.6h.7M546.9 436.7h.7M546.3 441.7h.7M546.4 439.7h.7M550.3 443.6h.7M546.4 439.3h.7M547.4 441.1h.7M546.2 439.1h.7M540.3 441.7h.7M541.9 445.8h.7M543.9 445.7h.7M543.6 442.9h.7M543.9 449h.7M544.3 446.1h.7M542.9 441.7h.7M542.9 445.9h.7M538.9 442.1h.7M540.8 448.7h.7M538.7 441.4h.7M539.1 442.3h.7M538.2 441.2h.7M540.2 445h.7M533.9 449.9h.7M534.9 444.7h.7M535.3 442.8h.7M537.5 446.7h.7M533.4 442.4h.7M531.2 442.4h.7M532.9 443.5h.7M531.6 442.2h.7M532.8 445.3h.7M532.6 443.9h.7M529.5 440.9h.7M537.9 440.9h.7M529.9 441.5h.7M539 440.6h.7M535.4 442h.7M538.1 441.7h.7M532.2 442.3h.7M532.6 443.6h.7M531.3 445.9h.7M533 443.7h.7M532.2 446.9h.7M535.3 443.7h.7M533.9 443h.7M532.2 445.6h.7M541.8 442.1h.7M534.7 446.4h.7M536 448.1h.7M535.9 448.5h.7M537.3 443.5h.7M535.3 450.2h.7M533.8 448.8h.7M541.9 444.9h.7M535 449.4h.7M537.8 453h.7M537.1 451.3h.7M537.3 453.6h.7M536.9 452.6h.7M537.5 450.6h.7M537.5 452h.7M543.8 446.8h.7M544.1 453.3h.7M541.5 453h.7M538.2 456h.7M539.5 456h.7M539.5 454.8h.7M539.3 458.3h.7M540.5 458.3h.7M542.7 456.7h.7M544.3 456.4h.7M540.6 457.7h.7M541.4 456.7h.7M539.2 462h.7M539.6 461.1h.7M541 461.9h.7M536.9 461.7h.7M541.8 465.7h.7M535.6 463.2h.7M537.2 462.7h.7M537.1 462.4h.7M541.2 464.7h.7M541.2 468h.7M540.5 467.1h.7M535.9 464.6h.7M538.2 466.6h.7M536.8 464.8h.7M535.9 466h.7M535.5 465.6h.7M535.8 467.1h.7M538.5 462.4h.7M535.5 466.8h.7M537.4 468.8h.7M541.1 465.5h.7M538.1 468.3h.7M542.1 465.3h.7M542.3 466.2h.7M541.6 468.4h.7M538.2 469.8h.7M545.1 468.8h.7M542.6 470.2h.7M544.1 473.4h.7M545.5 471.6h.7M542.1 473h.7M539.6 475.2h.7M543.3 473.6h.7M543.3 473.8h.7M541.1 475.2h.7M541.9 474.4h.7M542.7 478h.7M541.8 476.6h.7M541.6 477.6h.7M541.6 476.5h.7M541 477.6h.7M543 478.6h.7M544.9 475.9h.7M542.7 479.5h.7M541.5 479.3h.7M541.9 478.6h.7M543.5 480.1h.7M544.4 482.8h.7M546.5 481.9h.7M544.6 482.3h.7M544 481.1h.7M548.8 481.3h.7M545 480.5h.7M544.4 483.6h.7M549.5 483.7h.7M552.8 481.9h.7M544.3 484.2h.7M550.1 482.7h.7M546.7 488.4h.7M550.3 486.3h.7M547 488.2h.7M546.4 486.6h.7M546.4 487.1h.7M549 490.2h.7M545.4 489.9h.7M546.6 489.2h.7M545.8 492.4h.7M553.9 490.3h.7M548.2 492h.7M555.1 493h.7M548.5 494.2h.7M548.7 493.4h.7M546.4 493.3h.7M546.5 495h.7M545.1 495.1h.7M549.7 496.6h.7M546.3 496.4h.7M547.7 495.3h.7M546.8 496.1h.7M551.1 492.8h.7M545.9 497.4h.7M545.2 496.1h.7M548.4 495.8h.7M547.6 498.1h.7M547.7 496.2h.7M548.9 499.3h.7M552.4 496.1h.7M549.2 498.1h.7M546.9 499.1h.7M550 502.1h.7M548.3 502.6h.7M552.5 500.9h.7M548.9 500.7h.7M550.8 506.9h.7M552.2 503.9h.7M554.7 504h.7M550 504.1h.7M549.7 505h.7M550.8 506.4h.7M550.9 505.2h.7M550.7 507.9h.7M553.3 508.6h.7M552.6 508.5h.7M556.9 505.8h.7M551.9 508.1h.7M554.6 510.9h.7M555.8 511h.7M554.7 509.8h.7M560.9 509.5h.7M551.9 510h.7M554.7 513.6h.7M554.6 514.9h.7M558.5 512.5h.7M559.5 513.5h.7M559.7 513h.7M552.1 512.6h.7M556.8 517.3h.7M551.4 517.9h.7M557.3 517.2h.7M554.3 516.6h.7M552 518.3h.7M551.6 517.7h.7M557.8 519h.7M551.7 519.9h.7M553.8 518.7h.7M555.7 518.9h.7M552.2 521.3h.7M556.5 521.6h.7M559.2 520.6h.7M558 521.8h.7M556.1 521.8h.7M554.1 524.4h.7M552.8 525.1h.7M554 524.8h.7M555 524.9h.7M553.5 524.7h.7M554.3 522.6h.7M553.7 529.2h.7M562.4 526.1h.7M553.1 527.2h.7M553.9 526.4h.7M553.7 527.9h.7M554.3 525.8h.7M555 526.7h.7M555 529.7h.7M555.2 529.9h.7M555.5 529.9h.7M561.4 526.1h.7M557.1 531h.7M556.2 529.9h.7M561.1 524.5h.7M559.1 530.7h.7M556.7 531.5h.7M557.3 531.7h.7M565.8 529h.7M557.4 533.8h.7M560.8 532h.7M564.1 531.2h.7M561.7 536h.7M560.5 536.3h.7M567.6 533.2h.7M563.2 534.7h.7M563.7 535.4h.7M565.5 532.4h.7M560.2 535.7h.7M559.7 540.2h.7M563.1 539.7h.7M561.1 540.1h.7M560.7 539.5h.7M560.3 543.9h.7M563 542.3h.7M560.5 542.7h.7M561.9 543.9h.7M560.1 545.3h.7M564.6 544.7h.7M566.7 545.1h.7M559.4 546.1h.7M561.1 548.6h.7M558.7 547.7h.7M561.7 550h.7M565.4 550.3h.7M560 546.9h.7M564.1 550.3h.7M560.6 548.7h.7M559.1 550.4h.7M562.4 550.2h.7M566.5 548.7h.7M560.5 548.9h.7M561.4 555.1h.7M562.3 552.5h.7M558.3 553.3h.7M562.3 553.6h.7M559.9 551.9h.7M559.3 555.7h.7M561.9 551.5h.7M564.5 550.7h.7M563.4 553.1h.7M560.6 554.4h.7M560.8 560h.7M560.7 560.6h.7M561.8 560h.7M560.8 558.8h.7M564.9 558.5h.7M560.8 558.3h.7M561.3 558.8h.7M560.4 560.4h.7M561 562.4h.7M563.7 558h.7M560.7 561.3h.7M560.6 561.2h.7M566.9 558.3h.7M558.8 562h.7M557.8 561h.7M561.3 562.3h.7M559.8 562.7h.7M560.1 564.9h.7M560.4 563.7h.7M560.7 569.4h.7M561.4 568.4h.7M561 567.5h.7M563.9 566.8h.7M567.9 568.4h.7M561.1 569.4h.7M569.5 565h.7M562.8 564.8h.7M564.8 569.2h.7M565.9 568.7h.7M565.1 569.9h.7M566.2 569.5h.7M562.5 569.8h.7M562.6 571.1h.7M570.2 571h.7M570.4 568.1h.7M563.9 573.2h.7M572.6 569.4h.7M565.1 573.5h.7M567.6 573.5h.7M566.6 575.2h.7M572 571.5h.7M567.7 575.5h.7M565 575.6h.7M573.1 576.2h.7M573.9 576.8h.7M569.2 577.2h.7M565.8 577.9h.7M572.7 576.7h.7M567.6 579.9h.7M572.4 583.8h.7M570.9 583.9h.7M568.8 582.6h.7M566.4 584.9h.7M566.6 585h.7M565.7 585.2h.7M571.6 585.2h.7M566.6 583.8h.7M570.3 587.1h.7M568.1 586.7h.7M568.1 587.3h.7M567.4 586h.7M567.2 586.3h.7M571 585.3h.7M569.4 586.4h.7M564.5 590.5h.7M565.4 589h.7M566.1 591.6h.7M565.6 592.2h.7M571 592.4h.7M566.9 590.1h.7M566.3 592.8h.7M563.7 594.4h.7M569.5 596.9h.7M562.9 593h.7M568.3 594.4h.7M562.8 593.1h.7M561.1 597.5h.7M562.1 595.6h.7M566.5 599.3h.7M563.4 600.4h.7M559.7 598.4h.7M564.2 596.9h.7M560.1 597.5h.7M563.7 598.4h.7M566.6 594.8h.7M563.5 599.4h.7M563.6 592.7h.7M559.9 599h.7M564.3 597.8h.7M566.1 592.8h.7M564.9 595.3h.7M564.5 600.4h.7M562.3 599.7h.7M563.5 599.7h.7M565.7 596.2h.7M566.3 598.6h.7M569.1 598.5h.7M568.7 601.2h.7M566.2 599.9h.7M568.4 592.6h.7M569.1 599.1h.7M565.8 598.9h.7M569.8 603.4h.7M569.8 602.7h.7M573.6 600.1h.7M574.3 600.7h.7M570.9 604.3h.7M571.6 600.5h.7M571.4 606.3h.7M570.3 605.6h.7M574.5 603.9h.7M571.1 604.1h.7M576.9 597.1h.7M571.6 606.1h.7M574.7 608.3h.7M574.5 606h.7M574.7 607.4h.7M575.6 606.8h.7M578.3 603.9h.7M578 609.3h.7M580 606.7h.7M578.3 608.3h.7M578.3 607.4h.7M573.9 609.2h.7M577.3 608.3h.7M577.6 611.4h.7M584.6 606.3h.7M578.7 612.7h.7M581.2 606.5h.7M578.9 610.5h.7M578.9 612.9h.7M580.7 615h.7M581.3 614.8h.7M580.2 613.1h.7M580.3 612.5h.7M583.9 612.3h.7M584.4 615.5h.7M584.3 613.1h.7M583.9 615.4h.7M583.6 614.5h.7M584.5 616.3h.7M582.7 616.3h.7M584 617.6h.7M585 617h.7M586.4 614.3h.7M586 617.1h.7M585.7 616.6h.7M587.7 618.8h.7M586.2 617.4h.7M588.1 614.6h.7M588.1 618.8h.7M587.5 617.2h.7M588.8 618h.7M591.3 620.5h.7M599.4 618.4h.7M593.2 618.9h.7M594.2 619.8h.7M591.8 621h.7M591.7 621.8h.7M593.1 620.5h.7M598.2 620.7h.7M597.8 622.6h.7M591.9 624.7h.7M594.1 623.3h.7M594.3 622.5h.7M591.7 624.3h.7M591.9 622.2h.7M599.9 619.9h.7M598.7 620.3h.7M598 622.6h.7M594.7 627.2h.7M602.6 625h.7M596.2 628.9h.7M595.3 629.1h.7M597.1 629.1h.7M597.2 629.2h.7M600.5 630.4h.7M597.9 630.9h.7M597 632.4h.7M598.6 630.7h.7M596.9 630.4h.7M605.2 632.8h.7M597.4 634.5h.7M598.8 634.2h.7M604.7 632.1h.7M598.4 633.7h.7M604.7 636.1h.7M600.5 637.6h.7M601.6 636.6h.7M598.9 635.8h.7M604.7 636.8h.7M599.9 634.6h.7M603.7 635.5h.7M602.1 637.5h.7M605.1 635.2h.7M600.9 639.5h.7M604.1 636.8h.7M600.3 641.1h.7M602.6 640.4h.7M604.7 640.6h.7M602.8 643.1h.7M608.3 635.2h.7M603.1 642.3h.7M603.4 642.7h.7M604.4 641.7h.7M604.3 641.9h.7M604.2 644h.7M603.5 643.5h.7M606.1 641.1h.7M607.9 644h.7M610.5 642.8h.7M609.1 643.8h.7M611.2 641.2h.7M608.8 643.9h.7M606.5 645h.7M609.9 646.2h.7M609.9 644h.7M610.1 647.5h.7M614.7 641.9h.7M608.5 645.2h.7M610 646.5h.7M611.3 645.9h.7M611 649.4h.7M610.9 649.7h.7M613 646.3h.7M611.6 647.4h.7M613.8 646.6h.7M614.6 649.5h.7M614.9 651.7h.7M613.3 649.8h.7M613.7 650.3h.7M613.6 650h.7M613.5 652h.7M616.2 650.2h.7M615.4 650h.7M614.4 652.5h.7M614.5 646h.7M615.4 646.4h.7M615.3 651.5h.7M615 645.9h.7M617.7 648.3h.7M618.7 647.4h.7M618.8 649h.7M617.4 650h.7M617.4 650.1h.7M622.8 649.9h.7M622 649.6h.7M623.5 649.9h.7M621.5 649.9h.7M622.2 652.2h.7M625.3 648.3h.7M629.3 646.6h.7M629 647.5h.7M625.4 654.4h.7M624.9 654h.7M627.7 651.7h.7M623.6 654.1h.7M628.5 649.9h.7M628.3 648.4h.7M625.4 654.7h.7M625.2 651.2h.7M626.2 653.8h.7M627.2 655.4h.7M628.3 645.9h.7M629.5 654.5h.7M630.3 653.1h.7M630.7 655.6h.7M633.7 647.6h.7M633.8 650.3h.7M632.2 653.3h.7M631.8 656.5h.7M633.2 652h.7M633.6 652.2h.7M630.6 656.2h.7M634.3 658.1h.7M636.5 655.9h.7M635.7 656.2h.7M633.7 657.3h.7M634.1 657.2h.7M637.4 660.8h.7M641 652.8h.7M637.6 660h.7M635.9 659.6h.7M635.8 658.7h.7M637.4 660.1h.7M638.8 660h.7M643.4 657.8h.7M644.3 656.1h.7M638.8 660.8h.7M639.4 662.7h.7M639.6 660.6h.7M643.5 657h.7M642.7 655.4h.7M645.1 658h.7M642.2 664.2h.7M641.4 662.7h.7M642.4 664.5h.7M652.1 664.7h.7M644.3 664.3h.7M648.8 662.8h.7M645.3 667.2h.7M647.2 665.7h.7M652.6 662.9h.7M649.2 660.6h.7M648.3 668.1h.7M649 666.7h.7M646.5 668.1h.7M647.7 668.8h.7M649.1 668h.7M648.4 667.6h.7M647.2 662.1h.7M646.8 668.9h.7M648.9 661.1h.7M653.1 665.3h.7M650.9 668.8h.7M650.2 669.5h.7M650.5 668.2h.7M654.1 660.9h.7" stroke="#1a2e1a" stroke-width="0.8" opacity="0.62" fill="none"/>
<path d="M366.1 63.5L367.2 66.3L368.8 69.3L369.8 72.7L370.4 75.8L373.4 76.6L375.6 78.2L377.7 80.5L379.5 82L382.3 84.6L384.4 85.3L387 86.2L388.6 87.8L389.6 88.9L391.5 91.8L393.3 91.6L395.6 93.3L397.3 94.9L398.6 97.1L401.1 99.4L403.5 102.2L405.9 103.6L409.1 106.9L411.4 109L414.6 111.5L417 112.3L419.5 114L421 116.4L423.6 118.6L425.7 119.9L429.4 121.3L432.4 122L435.1 123.7L437.8 125L441 127.2L443.5 127.9L446 128.3L449.5 129L452.6 128.5L455 129.6L457.5 131L460.7 131L463.6 132.2L467.7 130.6L472 132.6L475.7 130.8L480.3 129.3L484.7 130.3L487.3 130.1L488.2 125.7L490.9 122.4L493.1 121L495.7 120.8L498.6 121.5L501 122.7L504.4 123.9L508.1 125L511.7 126L515.9 126.1L519.7 127.5L521.2 126.2L523.2 122.7L525.4 120.4L528.4 116.7L528.8 117L531.1 115.1L532.9 113.4L537.3 111.1L540.1 110.8L543.7 110.9L547.6 113.1L552.1 115.2L557 118.2L560.9 119.5L563.4 121.3L566.5 125.1L568.9 127.1L569.8 130.2L572.2 131.4L574 133.5L575.8 136.7L578 138.6L579.1 140L580.8 142.3L582.7 144.4L583.9 146L585.9 149.7L587.3 152.4L588.8 155.3L589.7 157.9L592.9 161.3L593.8 163.8L595.3 166.6L597.4 168.6L598.6 171.4L599.9 173.3L600.4 175.7L601.6 178.2L603.3 181.5L604.6 183.6L605.4 186.4L605.8 188.8L607.7 191.5L608.9 193.8L609.6 196.9L611.1 199.6L613.8 201.7L615.2 204.8L615.3 204.8L615.8 207.4L617.9 210.8L618.2 213.4L620.4 216.7L621 220L621.6 222L623.4 225.3L623.8 228.3L624.4 231.7L625.5 234.4L624.4 237.4L624 240.6L623.5 243.3L622.5 246.8L621.9 249.2L621.3 252.5L620.5 255.5L620 257.9L619.5 260.3L618.8 263.3L617.7 266.9L617.3 269.4L617.3 272.1L616.1 274.7L615.2 275.9L614.7 278.2L614.8 280.5L615.4 283.4L615 286.5L615.2 289.1L614.7 292L614.4 294.9L614.1 297.3L613.9 300.3L613.9 302.9L614 305.1L613.3 308.7L613.4 310.7L612.2 314L611.8 316.8L611.5 320.2L612.1 322.9L611.2 325.2L611.5 327.1L611.6 330.5L609.5 334L608.4 336.9L607.9 340.2L605.9 342.7L605.1 345.5L603.3 348.3L602.4 350.9L600.8 354.2L598.7 356.7L598 359.5L595.9 362.7L595.3 365L593.1 366.5L591.5 369.4L589.6 371.7L587.6 375.6L585.9 377.1L583 380L580.3 381.6L576.3 382.7L572.6 383.6L567.6 382.8L565.3 380.3L563.8 375.5L562 372.9L560.7 369.8L556.5 368.7L554 365.6L552.1 363.6L549.5 361.3L547.3 359.2L544.1 358.4L542 359.3L539.1 361.8L537.6 363.8L536.2 365.9L535.4 370L533.5 373.4L531.7 376.5L528.1 377.7L525.7 382.5L525.3 384.7L525.4 387.8L524.1 390.3L523.7 392.7L521.6 396.7L516.9 398.2L514.3 400.6L514.4 399.9L516 404.3L519.7 407.7L522.7 410.1L524.9 411.8L526.9 413.2L530.1 416.2L533.1 412.7L534.5 411.8L537.1 411.6L539 413.8L541.7 416.9L542.7 420.4L542 423.6L541.2 426.8L541 429L543.2 431.4L545.2 435.2L545.9 438L543.7 439.9L539.8 440.2L537 440.9L533.2 441L529.5 440.8L529.5 441.6L530.2 444.2L531.7 447.4L534.7 451.2L537.2 453.8L538.3 456.5L538.8 459.3L537 460.7L534.8 463.7L534.3 465.9L536.1 467.9L537.5 470.2L538.4 472.3L539.7 476.1L540.9 478.7L542.5 481.1L544 483.8L544.7 486.4L545.1 488.9L544.7 492.2L544.5 494.1L544.4 497L546.2 499.4L547.5 501.4L548.4 504.5L550.5 507.4L551.4 509.6L551.9 512.4L551.9 515.4L551.2 517.5L551.4 520.6L551.7 523.1L552.9 526.1L553.7 529.8L554.4 531.1L557.1 533.5L558.2 535.2L559.3 538.5L559.3 541L559.3 543.8L559.1 545.9L557.8 548.9L558.3 551.6L557.9 554.4L559.7 556.3L557.7 561.2L559.6 565.3L560.7 569.8L562.5 572.6L563.8 574.7L565.2 577.1L565.8 580.8L565.4 583L564.5 585.8L564.9 588.7L563.1 591.6L562 594.2L559.2 599.1L562.1 601.3L565 601.5L568.4 602.5L569.9 605.3L572.2 607.2L573.6 609.3L576.4 611.5L578.7 613.5L581.3 615.9L583.8 618.2L585.9 618.5L589.1 619.6L590.6 622.9L592.5 626.4L594.6 628.2L595.6 630.6L596.8 633.1L597.4 635.5L598.4 639L599.8 641L602.7 643.9L604.8 645L607 646.9L609.7 649L611.6 650.7L614 652.9L617.3 651.8L619.9 651.5L622.4 653.3L624.6 655.2L628.1 655.6L630.2 656.6L633.1 657.7L635 659.3L637.6 661.5L640.8 664L642.7 665.1L643.8 667.9L648.8 669.6L651.4 670.5" fill="none" stroke="#000" stroke-width="0.8" stroke-linejoin="round" clip-path="url(#mc)"/>
<path d="M124 117.2l8.2 8.2M124 125.4l8.2 -8.2M183.1 117.2l8.2 8.2M183.1 125.4l8.2 -8.2M242.4 117.2l8.2 8.2M242.4 125.4l8.2 -8.2M301.7 117.2l8.2 8.2M301.7 125.4l8.2 -8.2M361.1 117.2l8.2 8.2M361.1 125.4l8.2 -8.2M420.1 117.2l8.2 8.2M420.1 125.4l8.2 -8.2M538.4 117.2l8.2 8.2M538.4 125.4l8.2 -8.2M124 176.3l8.2 8.2M124 184.5l8.2 -8.2M183.1 176.3l8.2 8.2M183.1 184.5l8.2 -8.2M242.4 176.3l8.2 8.2M242.4 184.5l8.2 -8.2M301.7 176.3l8.2 8.2M301.7 184.5l8.2 -8.2M361.1 176.3l8.2 8.2M361.1 184.5l8.2 -8.2M420.1 176.3l8.2 8.2M420.1 184.5l8.2 -8.2M479 176.3l8.2 8.2M479 184.5l8.2 -8.2M538.4 176.3l8.2 8.2M538.4 184.5l8.2 -8.2M124 235.5l8.2 8.2M124 243.7l8.2 -8.2M183.1 235.5l8.2 8.2M183.1 243.7l8.2 -8.2M242.4 235.5l8.2 8.2M242.4 243.7l8.2 -8.2M301.7 235.5l8.2 8.2M301.7 243.7l8.2 -8.2M361.1 235.5l8.2 8.2M361.1 243.7l8.2 -8.2M420.1 235.5l8.2 8.2M420.1 243.7l8.2 -8.2M479 235.5l8.2 8.2M479 243.7l8.2 -8.2M538.4 235.5l8.2 8.2M538.4 243.7l8.2 -8.2M597.9 235.5l8.2 8.2M597.9 243.7l8.2 -8.2M124 294.5l8.2 8.2M124 302.7l8.2 -8.2M183.1 294.5l8.2 8.2M183.1 302.7l8.2 -8.2M242.4 294.5l8.2 8.2M242.4 302.7l8.2 -8.2M301.7 294.5l8.2 8.2M301.7 302.7l8.2 -8.2M361.1 294.5l8.2 8.2M361.1 302.7l8.2 -8.2M420.1 294.5l8.2 8.2M420.1 302.7l8.2 -8.2M479 294.5l8.2 8.2M479 302.7l8.2 -8.2M538.4 294.5l8.2 8.2M538.4 302.7l8.2 -8.2M597.9 294.5l8.2 8.2M597.9 302.7l8.2 -8.2M183.1 353.8l8.2 8.2M183.1 362l8.2 -8.2M242.4 353.8l8.2 8.2M242.4 362l8.2 -8.2M301.7 353.8l8.2 8.2M301.7 362l8.2 -8.2M361.1 353.8l8.2 8.2M361.1 362l8.2 -8.2M420.1 353.8l8.2 8.2M420.1 362l8.2 -8.2M479 353.8l8.2 8.2M479 362l8.2 -8.2M538.4 353.8l8.2 8.2M538.4 362l8.2 -8.2M183.1 413l8.2 8.2M183.1 421.2l8.2 -8.2M242.4 413l8.2 8.2M242.4 421.2l8.2 -8.2M301.7 413l8.2 8.2M301.7 421.2l8.2 -8.2M361.1 413l8.2 8.2M361.1 421.2l8.2 -8.2M420.1 413l8.2 8.2M420.1 421.2l8.2 -8.2M479 413l8.2 8.2M479 421.2l8.2 -8.2M183.1 472l8.2 8.2M183.1 480.2l8.2 -8.2M242.4 472l8.2 8.2M242.4 480.2l8.2 -8.2M301.7 472l8.2 8.2M301.7 480.2l8.2 -8.2M361.1 472l8.2 8.2M361.1 480.2l8.2 -8.2M420.1 472l8.2 8.2M420.1 480.2l8.2 -8.2M479 472l8.2 8.2M479 480.2l8.2 -8.2M242.4 530.7l8.2 8.2M242.4 538.9l8.2 -8.2M301.7 530.7l8.2 8.2M301.7 538.9l8.2 -8.2M361.1 530.7l8.2 8.2M361.1 538.9l8.2 -8.2M420.1 530.7l8.2 8.2M420.1 538.9l8.2 -8.2M479 530.7l8.2 8.2M479 538.9l8.2 -8.2M538.4 530.7l8.2 8.2M538.4 538.9l8.2 -8.2" stroke="#0000ff" stroke-width="1.5" fill="none"/>
<path d="M527.8 443.9L526.7 449.9L525.7 455.2L525.4 459.9L525.4 464.4L527.3 461.8L528.4 457.8L528.7 453.4L528.3 448.6Z" fill="#8c8c8c"/>
<g fill="none" stroke="#000" stroke-width="1.05" stroke-linejoin="round" stroke-linecap="round">
<path d="M128.1 121.3C127.9 121.9 127.7 124.1 127.1 125.3C126.5 126.5 125.6 127.8 124.4 128.4C123.3 129 121.9 129.1 120.4 129C118.9 128.8 117 127.9 115.3 127.4C113.6 126.8 110.7 125.8 110.3 125.9C109.8 126.1 112.1 127.1 112.7 128.4C113.3 129.6 113.4 131.6 113.9 133.4C114.4 135.3 115.2 137.6 115.9 139.5C116.7 141.4 117.5 143.4 118.4 145C119.2 146.6 120.7 148 121 149.2C121.3 150.4 120.2 151.8 120 152.3"/>
<path d="M187.3 121.3C187.1 121.9 186.7 123.8 186.2 125.3C185.7 126.8 184.8 128.5 184.2 130.4C183.6 132.2 183.1 134.4 182.8 136.5C182.5 138.5 182.6 140.7 182.2 142.5C181.8 144.4 181.1 146.5 180.6 147.6C180.1 148.7 178.9 148.6 179.1 149C179.4 149.5 181.2 149.5 182.2 150.2C183.2 151 184.4 152.4 185.2 153.7C186 154.9 186.5 156.4 186.8 157.7C187.2 159.1 186.8 160.3 187.3 161.8C187.7 163.3 188.8 165.2 189.7 166.9C190.5 168.5 191.5 170.1 192.3 171.9C193.1 173.8 193.8 176 194.3 178C194.8 180 195.2 182.2 195.4 184.1C195.6 185.9 195.7 187.7 195.6 189.1C195.5 190.6 194.9 192.2 194.7 192.8"/>
<path d="M246.6 121.3C247.2 121.9 249.3 124 250.3 125.3C251.2 126.7 252.1 127.9 252.3 129.4C252.5 130.9 251.9 132.8 251.3 134.4C250.6 136.1 249.2 137.8 248.2 139.5C247.2 141.2 246 143.2 245.2 144.6C244.4 145.9 244.4 146.8 243.2 147.6C242 148.5 239.8 149 238.1 149.6C236.4 150.3 234.4 151.2 233 151.7C231.7 152.1 229.8 151.8 230 152.3C230.2 152.8 232.5 153.5 234.1 154.7C235.6 156 237.6 157.9 239.1 159.8C240.6 161.6 242.2 163.8 243.2 165.8C244.1 167.9 244.6 169.7 244.8 171.9C245 174.1 244.6 176.8 244.2 179C243.7 181.2 243 182.9 242.2 185.1C241.3 187.3 240.1 190.2 239.1 192.2C238.1 194.2 237.1 195.8 236.1 197.3C235.1 198.7 233.9 199.9 233 200.7C232.2 201.5 231.4 201.7 231 201.9"/>
<path d="M306 121.3C306.7 120.9 308.5 119.5 310 119.2C311.5 119 314.1 119.3 315.1 119.7C316.1 120 316.4 120.8 316.1 121.3C315.8 121.8 314.2 122.4 313.1 122.7C311.9 123 309.9 122.9 309 123.3C308.2 123.7 307.7 124.8 308 125.3C308.3 125.8 309.7 126.4 311 126.3C312.4 126.2 314.4 125.6 316.1 124.7C317.8 123.9 319.5 122.3 321.2 121.3C322.9 120.3 324.7 119.1 326.2 118.6C327.8 118.1 329.1 118.1 330.3 118.2C331.5 118.4 332.3 119.1 333.3 119.7C334.3 120.2 335.2 121.3 336.4 121.7C337.5 122.1 339.1 121.8 340.4 121.9C341.7 121.9 342.6 121.4 344.1 121.9C345.5 122.4 347.3 124 349.1 125C351 126 353.2 127.3 355.2 128C357.2 128.7 359.2 129 361.3 129C363.3 129 365.5 128.7 367.4 128C369.2 127.3 370.9 126.1 372.4 125C373.9 123.8 375.3 122.2 376.5 121.3C377.7 120.5 379 120.1 379.5 119.9"/>
<path d="M370.4 122.1C369.5 121.9 366.7 121.6 365.3 120.9C364 120.2 362.1 119.1 362.3 117.9C362.5 116.7 364.8 115.3 366.3 113.8C367.9 112.3 369.9 110.3 371.4 108.8C372.9 107.2 374.1 105.5 375.5 104.3C376.8 103.1 378 102.3 379.5 101.7C381 101.1 382.7 100.9 384.6 100.7C386.4 100.4 388.8 100.4 390.7 100.2C392.5 100.1 394.2 99.9 395.7 99.6C397.2 99.4 399.1 98.8 399.8 98.6"/>
<path d="M424.1 121.3C423.6 121.1 422.4 120.8 421 119.9C419.7 119 417.7 117.2 416 115.8C414.3 114.5 412.6 113.3 410.9 111.8C409.2 110.3 407.4 108.4 405.8 106.7C404.3 105 402.5 102.5 401.8 101.7"/>
<path d="M542.4 121.3C541.4 121.6 538.4 122.6 536.3 123.3C534.3 124 532.3 124.7 530.3 125.3C528.2 126 526.2 126.7 524.2 127.4C522.2 128 520 128.8 518.1 129.4C516.2 130 514.4 130.5 513 130.8C511.7 131.1 511.2 131.1 510 131.4C508.8 131.7 507.1 131.9 505.7 132.4C504.4 132.9 502.7 133.4 501.7 134.4C500.7 135.5 499.7 137 499.7 138.5C499.7 140 500.8 141.9 501.7 143.6C502.5 145.2 503.8 146.8 504.7 148.6C505.7 150.5 506.7 152.7 507.4 154.7C508 156.7 508.4 158.4 508.6 160.8C508.8 163.1 508.7 166.8 508.4 168.9C508 171 507.5 172.2 506.6 173.3C505.6 174.5 504.4 175.1 502.7 175.6C501.1 176 498.7 176.1 496.6 176C494.6 175.8 492.4 175.2 490.5 174.6C488.7 173.9 486.3 172.4 485.5 171.9"/>
<path d="M128.1 180.4C127.7 181 126.4 182.6 125.5 184.1C124.5 185.5 123.3 187.5 122.4 189.1C121.6 190.8 121.5 193.4 120.4 194.2C119.3 195 115.7 193.4 115.7 193.8C115.7 194.2 118.8 195.4 120.4 196.8C122 198.3 123.9 200.4 125.5 202.3C127 204.2 128.3 206.4 129.5 208.4C130.7 210.4 131.5 212.4 132.5 214.5C133.6 216.5 134.4 218.5 135.6 220.5C136.8 222.6 138.3 224.6 139.6 226.6C141 228.7 142.5 230.8 143.7 232.7C144.9 234.6 146.4 236.5 146.7 237.8C147.1 239.1 146.6 240 145.7 240.6C144.9 241.2 142.3 241.5 141.7 241.6"/>
<path d="M187.3 180.4C186.8 181 185.7 182.5 184.8 184.1C184 185.7 183 188.1 182.2 190.2C181.4 192.2 180.8 194.7 180.2 196.2C179.5 197.8 178.2 198.3 178.3 199.3C178.5 200.3 180 200.6 181.2 202.3C182.3 204 183.9 206.9 185.2 209.4C186.6 211.9 187.9 214.8 189.3 217.5C190.6 220.2 192 223.1 193.3 225.6C194.7 228.1 196.2 230.3 197.4 232.7C198.6 235.1 199.9 238.4 200.4 239.8C200.9 241.2 200.9 240.7 200.4 241C199.9 241.3 198.6 241.7 197.4 241.6C196.2 241.5 194 240.6 193.3 240.4"/>
<path d="M246.6 180.4C246.4 181.2 245.9 183.3 245.2 185.1C244.5 186.9 243.3 189.3 242.2 191.2C241 193 239.5 194.8 238.1 196.2C236.8 197.7 235.1 198.5 234.1 199.7C233 200.9 231.5 202 232 203.3C232.5 204.6 235.4 205.9 237.1 207.4C238.8 208.9 240.6 210.6 242.2 212.4C243.7 214.3 245.2 216.3 246.2 218.5C247.2 220.7 247.8 223.4 248.2 225.6C248.6 227.8 248.7 229.7 248.6 231.7C248.6 233.7 248.2 236 247.8 237.8C247.5 239.5 247.1 240.8 246.6 242C246.2 243.2 245.7 243.9 245.2 245.1C244.7 246.2 244.2 247.9 243.8 249.1C243.3 250.3 242.8 251.6 242.6 252.2"/>
<path d="M306 180.4C305.3 180.9 303.2 182.3 301.9 183.1C300.7 183.8 299 184.2 298.5 185.1C298 185.9 298.3 187.6 298.9 188.1C299.5 188.7 300.9 188.9 301.9 188.5C302.9 188.2 304.2 187.2 305 186.1C305.7 185 305.9 183.2 306.6 182.1C307.3 180.9 307.9 179.9 309 179C310.1 178.2 311.7 177 313.1 177C314.4 177 315.8 178.3 317.1 179C318.5 179.8 319.8 180.8 321.2 181.4C322.5 182.1 324 183.3 325.2 183.1C326.4 182.8 327.4 181.4 328.3 180C329.1 178.7 330 175.8 330.3 175"/>
<path d="M365.3 180.3C365.8 181 366.8 183.5 368.4 184.7C369.9 186 373.2 187.2 374.4 187.8C375.7 188.3 374.8 187.9 376.1 188.1C377.4 188.4 380.1 189 382.2 189.1C384.2 189.3 386.2 189.3 388.2 189.1C390.3 189 392.5 187.6 394.3 188.1C396.2 188.6 397.7 190.7 399.4 192.2C401.1 193.7 402.8 195.4 404.4 197.3C406.1 199.1 408.2 201.3 409.5 203.3C410.9 205.4 411.9 207.4 412.5 209.4C413.2 211.4 413.4 214.5 413.6 215.5"/>
<path d="M427.7 182.1C427.2 181.8 424.6 180.1 424.3 180.4C424 180.8 425 184.1 425.7 184.1C426.5 184 427.4 181.1 428.8 180C430.1 178.9 432.1 178 433.8 177.6C435.5 177.2 437.2 177 438.9 177.6C440.6 178.2 442.3 179.6 444 181C445.6 182.5 447.5 184.2 449 186.1C450.5 188 451.7 189.8 453.1 192.2C454.4 194.5 455.8 197.6 457.1 200.3C458.5 203 460 205.9 461.2 208.4C462.4 210.9 463.2 213.3 464.2 215.5C465.2 217.7 466.4 219.9 467.3 221.6C468.1 223.3 469.3 224.8 469.3 225.6C469.3 226.5 468.1 226.9 467.3 226.6C466.4 226.4 465.1 225 464.2 224C463.4 223 462.5 221.1 462.2 220.5"/>
<path d="M483.1 180.4C482.4 180.5 480.7 181.3 479.4 181C478.1 180.8 476.4 179.4 475.4 179C474.3 178.6 473 178.1 473.3 178.6C473.7 179.1 476.2 180.6 477.4 182.1C478.6 183.5 479.4 185.1 480.4 187.1C481.4 189.1 482.4 191.8 483.5 194.2C484.5 196.6 485.5 198.8 486.5 201.3C487.5 203.8 488.7 206.7 489.5 209.4C490.4 212.1 491.1 214.8 491.6 217.5C492.1 220.2 492.2 222.9 492.6 225.6C492.9 228.3 493.3 230.8 493.6 233.7C493.9 236.6 493.7 240.5 494.2 243C494.7 245.6 496.1 247.1 496.6 249.1C497.2 251.1 497.5 253.2 497.6 255.2C497.7 257.2 497.6 259.6 497.2 261.3C496.9 263 495.9 264.7 495.6 265.3"/>
<path d="M542.4 180.4C541.4 180.7 538.4 181.4 536.3 182.1C534.3 182.7 532.3 183.4 530.3 184.1C528.2 184.8 526 185.4 524.2 186.1C522.3 186.8 520.6 187.3 519.1 188.1C517.6 189 516.1 190 515.1 191.2C514.1 192.4 513.5 193.5 513 195.2C512.5 196.9 512.3 199.3 512 201.3C511.8 203.3 511.6 205.4 511.6 207.4C511.6 209.4 511.8 211.4 512 213.5C512.3 215.5 512.5 217.2 513 219.5C513.5 221.9 514.4 225.1 515.1 227.6C515.7 230.2 516.6 232.7 517.1 234.7C517.6 236.8 517.6 238.4 518.1 240C518.6 241.6 519.5 242.4 520.1 244.1C520.8 245.7 521.8 247.8 522.2 250.1C522.6 252.5 522.6 255.5 522.6 258.2C522.5 260.9 522 263.6 521.8 266.3C521.5 269 521.1 271.7 521.1 274.4C521.1 277.1 521.5 279.8 521.8 282.5C522 285.2 522.3 288.3 522.6 290.7C522.8 293 523.1 295.7 523.2 296.7"/>
<path d="M128.1 241C128 241.9 127.5 244.4 127.5 246.1C127.5 247.8 128.1 249.6 128.1 251.1C128.1 252.7 128.1 254.2 127.5 255.2C126.9 256.2 125.5 256.7 124.4 257.2C123.4 257.7 121.4 257.7 121.4 258.2C121.4 258.7 123.3 258.9 124.4 260.3C125.6 261.6 127 264.1 128.5 266.3C130 268.5 131.9 271.1 133.6 273.4C135.2 275.8 136.9 278.2 138.6 280.5C140.3 282.9 142.2 285.6 143.7 287.6C145.2 289.6 146.6 291 147.7 292.7C148.9 294.4 150.1 296.4 150.8 297.7C151.5 299.1 151.8 299.8 151.8 300.8C151.8 301.8 151 303.3 150.8 303.8"/>
<path d="M187.3 241C187.1 241.7 186.2 243.7 186.2 245.1C186.2 246.4 186.6 247.8 187.3 249.1C187.9 250.5 188.9 252 190.3 253.2C191.6 254.4 193.7 255 195.4 256.2C197 257.4 198.9 258.9 200.4 260.3C201.9 261.6 203.3 263 204.5 264.3C205.7 265.7 206.6 267 207.5 268.4C208.4 269.7 209.4 271.6 209.9 272.4C210.4 273.3 211 273.4 210.5 273.4C210.1 273.5 208.5 273.2 207.5 272.8C206.5 272.5 205 271.6 204.5 271.4"/>
<path d="M246.6 242C246.4 243 245.3 246.4 245.2 248.1C245.1 249.8 245.4 251 246.2 252.2C247.1 253.3 248.7 254.5 250.3 255.2C251.8 255.9 253.6 256.3 255.3 256.6C257 257 258.9 256.6 260.4 257.2C261.9 257.8 263.4 258.9 264.4 260.3C265.5 261.6 266.4 263.6 266.9 265.3C267.3 267 267.1 268.7 267.1 270.4C267 272.1 266.5 273.6 266.5 275.5C266.4 277.3 266.6 279.8 266.9 281.5C267.1 283.2 267.9 284.9 268.1 285.6"/>
<path d="M298.5 236.1C298.7 236.4 299.4 237.3 300.2 237.8C301 238.3 302.3 238.8 303.2 238.9C304.2 239.1 305.2 239.1 305.8 238.7C306.4 238.3 306.6 237.4 306.9 236.5C307.1 235.6 307.2 234.4 307.3 233.5C307.5 232.5 307.3 230.7 307.7 230.6C308.2 230.5 309.1 232.1 309.7 233C310.4 233.9 311.1 235.2 311.5 236.1C311.8 236.9 312.1 237.5 311.9 238.1C311.7 238.6 311 238.9 310.2 239.5C309.4 240.1 308.2 241 307.1 241.7C306.1 242.4 305 243.1 304.1 243.6C303.2 244.1 302.3 244.6 301.9 244.7"/>
<path d="M365.3 241C366.1 240.7 368 239.6 370 239.4C372 239.2 375.1 239.7 377.1 240C379.1 240.3 380.6 240.3 382.2 241C383.7 241.7 385.4 242.5 386.2 244.1C387.1 245.6 386.4 248.3 387.2 250.1C388.1 252 389.9 253.3 391.3 255.2C392.6 257.1 394.2 259.1 395.3 261.3C396.4 263.5 397.3 266 398 268.4C398.6 270.7 399.1 273.1 399.4 275.5C399.6 277.8 399.4 280.4 399.4 282.5C399.3 284.7 399 287.6 399 288.6"/>
<path d="M424.3 241C424.7 241.9 425.6 244.4 426.7 246.1C427.8 247.8 429.1 249.6 430.8 251.1C432.5 252.7 434.8 253.8 436.9 255.2C438.9 256.5 440.9 257.7 442.9 259.2C445 260.8 447 262.5 449 264.3C451 266.2 453.2 268.2 455.1 270.4C457 272.6 458.8 275.3 460.2 277.5C461.5 279.7 462.4 281.4 463.2 283.6C464 285.8 464.4 288.3 464.8 290.7C465.2 293 465.2 295.4 465.6 297.7C466 300.1 466.8 302.6 467.3 304.8C467.7 307 468.6 309.7 468.3 310.9C467.9 312.1 466.4 311.7 465.2 311.9C464 312.2 462.5 312.2 461.2 312.5C459.8 312.9 457.8 313.7 457.1 314"/>
<path d="M483.1 241C483.6 241.7 485.1 243.9 486.5 245.1C487.9 246.2 489.9 246.9 491.6 248.1C493.3 249.3 494.9 250.5 496.6 252.2C498.3 253.8 500.2 256.2 501.7 258.2C503.2 260.3 504.4 262.3 505.7 264.3C507.1 266.3 509 268.4 510 270.4C511 272.4 511.4 274.1 512 276.5C512.7 278.8 513.4 281.9 514.1 284.6C514.7 287.3 515.3 290 515.7 292.7C516 295.4 516.2 298.1 516.1 300.8C516 303.5 515.4 306.2 515.1 308.9C514.7 311.6 514.3 314.3 514.1 317C513.8 319.7 514.3 323.2 513.6 325.1C513 327 511.5 327.1 510 328.1C508.5 329.1 506.5 330.5 504.7 331.2C503 331.8 501.2 332.2 499.7 332.2C498.1 332.2 496.3 331.3 495.6 331.2"/>
<path d="M542.4 241C541.7 241.4 539.4 242.2 538.4 243C537.4 243.9 536.3 244.6 536.3 246.1C536.3 247.6 537.2 250.1 538.4 252.2C539.5 254.2 541.4 256.2 543.4 258.2C545.5 260.3 548.2 262.3 550.5 264.3C552.9 266.3 555.2 268.4 557.6 270.4C560 272.4 562.7 274.6 564.7 276.5C566.7 278.3 568.4 279.7 569.8 281.5C571.1 283.4 572.5 285.6 572.8 287.6C573.1 289.6 572.1 292 571.8 293.7C571.5 295.4 570.6 296.4 570.8 297.7C571 299.1 571.5 301.1 572.8 301.8C574.2 302.5 576.9 302.4 578.9 302.2C580.9 302 583.3 301.4 585 300.8C586.7 300.2 588.3 299.1 589 298.8"/>
<path d="M601.5 246C602 245.4 604.2 243.6 604.3 242.5C604.4 241.5 602.7 240.3 602.1 239.6C601.4 238.9 601.2 239.2 600.3 238.6C599.5 237.9 598.2 236.6 596.9 235.9C595.6 235.3 593.9 234.6 592.5 234.4C591.2 234.2 589.7 234.3 588.7 234.7C587.7 235.1 586.5 236.1 586.4 236.8C586.4 237.6 587.2 238.6 588.2 239.2C589.2 239.9 590.8 240.1 592.5 240.5C594.3 240.8 596.9 241.2 598.6 241.2C600.3 241.1 601.9 240.9 602.9 240.3C604 239.7 604.2 238.6 604.7 237.3C605.1 236.1 605.5 234.2 605.7 233C605.9 231.8 605.7 230.4 605.7 229.9"/>
<path d="M128.1 299.2C128.5 299.6 129.6 300.8 130.5 301.8C131.4 302.7 133 303.9 133.6 304.8C134.2 305.8 134.4 306.8 134.2 307.5C133.9 308.1 132.9 308.8 132.1 308.9C131.4 309 130 308.4 129.5 307.9C129 307.4 129.2 306.2 129.1 305.8"/>
<path d="M187.3 299.2C186.6 299.3 184.4 300 183.2 300.2C182 300.4 180 300.1 180.2 300.4C180.3 300.6 182.7 301.4 184.2 301.8C185.7 302.2 187.8 302.3 189.3 302.8C190.8 303.3 192 304 193.3 304.8C194.7 305.7 196.2 306.9 197.4 307.9C198.6 308.8 199.5 309.7 200.4 310.5C201.4 311.4 202.6 312.5 203.1 312.9"/>
<path d="M246.6 299.2C246.2 299.5 243.7 300.8 244.2 301.4C244.6 301.9 247.4 302 249.2 302.4C251.1 302.8 253.5 303.2 255.3 303.8C257.2 304.4 259 304.8 260.4 305.8C261.7 306.9 262.4 308.2 263.4 309.9C264.4 311.6 265.5 314 266.5 316C267.5 318 268.7 320.2 269.5 322.1C270.3 323.9 270.7 325.8 271.1 327.1C271.5 328.5 271.8 329.7 271.9 330.2"/>
<path d="M306 299.2C305.5 298.6 303.8 296.8 302.9 295.7C302 294.6 300.8 293.5 300.5 292.7C300.2 291.8 300 291.1 300.9 290.7C301.8 290.2 304.1 290.3 306 290.2C307.8 290.2 310.4 290 312.1 290.2C313.7 290.5 314.8 290.8 316.1 291.7C317.5 292.6 318.8 294 320.2 295.7C321.5 297.4 322.9 299.6 324.2 301.8C325.6 304 327.1 306.7 328.3 308.9C329.4 311.1 330.2 313.3 330.9 315C331.6 316.6 331.9 318.4 332.3 318.6C332.7 318.8 333.2 316.4 333.3 316"/>
<path d="M365.3 299.2C365.7 298.4 367 296.5 367.8 294.7C368.5 292.9 368.8 290 369.8 288.6C370.8 287.3 372.7 287.2 374.1 286.6C375.4 286 376.5 284.7 377.7 285.2C378.9 285.7 379.9 287.7 381.1 289.6C382.4 291.6 383.7 293.9 385.2 296.7C386.7 299.6 388.7 303.7 390.3 306.9C391.8 310.1 393 312.9 394.3 316C395.7 319 397.4 322.6 398.4 325.1C399.3 327.6 399.8 329.3 400 331.2C400.2 333 399.5 335.4 399.4 336.2"/>
<path d="M424.3 299.2C424.5 300.1 425 302.9 425.7 304.8C426.5 306.8 427.9 308.7 428.8 310.9C429.6 313.1 429.9 315.6 430.8 318C431.6 320.4 432.8 322.7 433.8 325.1C434.8 327.5 435.8 330 436.9 332.2C437.9 334.4 439.6 336.4 439.9 338.3C440.2 340.1 439.4 341.6 438.9 343.3C438.4 345 437 346.5 436.9 348.4C436.7 350.3 437.4 352.6 437.9 354.5C438.4 356.3 439.1 358.3 439.9 359.5C440.7 360.8 442.4 361.7 442.9 362.2"/>
<path d="M483.1 299.2C482.4 298.9 480.4 297.6 479.4 297.7C478.5 297.8 477.2 298.8 477.4 299.8C477.5 300.8 479.6 302.1 480.4 303.8C481.3 305.5 481.6 307.5 482.4 309.9C483.3 312.3 484.5 315.5 485.5 318C486.5 320.5 487.5 323.1 488.5 325.1C489.5 327.1 491 328.1 491.6 330.2C492.2 332.2 492 335.1 492.2 337.3C492.3 339.4 492.8 341.5 492.6 343.3C492.3 345.2 491.4 346.9 490.5 348.4C489.7 349.9 488.2 351.1 487.5 352.4C486.8 353.8 486.3 355.1 486.5 356.5C486.7 357.8 487.8 359.5 488.5 360.5C489.2 361.6 490.4 361.6 490.5 362.6C490.7 363.6 490 365.6 489.5 366.6C489 367.6 487.8 368.3 487.5 368.7"/>
<path d="M542.4 299.2C543.1 299.6 544.8 301.2 546.5 301.8C548.2 302.4 550.5 302.3 552.5 302.8C554.6 303.3 556.8 303.8 558.6 304.8C560.5 305.8 562.2 307.4 563.7 308.9C565.2 310.4 566.6 312.1 567.7 314C568.9 315.8 569.7 318.2 570.4 320C571.1 321.9 571.6 324.2 571.8 325.1"/>
<path d="M602.1 298.5C601.9 299.3 600.8 302.8 601.2 303.3C601.6 303.8 603.4 302.6 604.7 301.6C606 300.6 608 297.4 609 297.3C610 297.1 610.1 301.2 610.8 300.7C611.4 300.3 612.5 297 613 294.6C613.5 292.3 613.6 287 613.9 286.8C614.1 286.7 614.3 290.9 614.4 293.8C614.5 296.7 614.5 302.5 614.6 304.2"/>
<path d="M187.3 357.9C186.6 358.4 184.4 359.9 183.2 360.5C182 361.2 180 361 180.2 361.6C180.3 362.1 182.9 364 184.2 364C185.6 364 186.9 361.9 188.3 361.6C189.6 361.3 190.8 361.7 192.3 362.2C193.8 362.7 195.7 363.5 197.4 364.6C199.1 365.7 200.9 367.1 202.4 368.7C204 370.2 205.3 371.8 206.5 373.7C207.7 375.6 208.4 378.3 209.5 380C210.7 381.7 212.1 382.7 213.6 384.1C215.1 385.4 217.2 386.6 218.7 388.1C220.1 389.6 221.3 391.6 222.1 393.2C222.9 394.7 223.4 396.5 223.7 397.2"/>
<path d="M246.6 357.9C247.1 358.5 248 360.9 249.2 361.6C250.5 362.3 252.6 361.8 254.3 362.2C256 362.5 257.9 362.7 259.4 363.6C260.9 364.5 261.9 366.1 263.4 367.6C264.9 369.2 267 371 268.5 372.7C270 374.4 271.6 376.6 272.5 377.8C273.5 379 273.2 379 274.2 380C275.2 381 277 382.4 278.6 384.1C280.2 385.7 282.2 387.8 283.7 390.1C285.2 392.5 286.7 395.5 287.7 398.2C288.8 400.9 289.6 403.6 290.2 406.3C290.7 409 291.1 411.7 291.2 414.4C291.3 417.1 291.1 419.8 290.8 422.5C290.5 425.2 289.7 427.9 289.4 430.7C289 433.4 288.8 436.4 288.8 438.8C288.7 441.1 289.1 443.8 289.2 444.8"/>
<path d="M306 357.9C305.9 358.7 304.7 361.6 305.4 362.6C306 363.5 308.4 362.9 310 363.6C311.6 364.3 313.4 365.4 315.1 366.6C316.8 367.8 318.5 369.3 320.2 370.7C321.8 372 323.4 373.4 325.2 374.7C327.1 376.1 329.4 377.4 331.3 378.8C333.2 380.2 334.7 381.5 336.4 383C338.1 384.6 340.1 386.1 341.4 388.1C342.8 390.1 344.1 392.7 344.5 395.2C344.8 397.7 344.1 400.6 343.5 403.3C342.8 406 341.4 408.7 340.4 411.4C339.4 414.1 338.4 416.6 337.4 419.5C336.4 422.4 335.2 425.6 334.3 428.6C333.5 431.7 332.8 434.9 332.3 437.7C331.8 440.6 331.5 444.5 331.3 445.8"/>
<path d="M365.3 357.9C365.1 358.7 364.6 361.1 364.1 362.6C363.7 364 363.6 365.4 362.7 366.6C361.8 367.8 359.8 368.8 358.7 369.7C357.5 370.5 356 370.8 355.6 371.7C355.3 372.5 356 373.3 356.6 374.7C357.3 376.1 358.1 378.6 359.7 380C361.2 381.4 364 382.2 365.7 383C367.5 383.9 368.6 384.1 370 385.1C371.4 386.1 372.9 387.6 374.1 389.1C375.2 390.6 376.4 392.3 377.1 394.2C377.8 396 378.1 397.9 378.1 400.3C378.1 402.6 377.8 405.3 377.1 408.4C376.4 411.4 375.1 415.3 374.1 418.5C373 421.7 372.1 424.2 371 427.6C370 431 368.7 435.7 367.8 438.8C366.8 441.8 365.9 444.2 365.3 445.8C364.7 447.5 364.3 448.4 364.1 448.9"/>
<path d="M424.3 357.9C424.2 358.9 423.9 361.6 423.7 363.6C423.5 365.5 423.4 367.8 423.1 369.7C422.7 371.5 422.2 373 421.7 374.7C421.1 376.5 420 378.3 419.6 380C419.3 381.7 419.2 383 419.6 385.1C420.1 387.1 421.3 389.6 422.3 392.2C423.3 394.7 424.5 397.2 425.7 400.3C427 403.3 428.4 407 429.8 410.4C431.1 413.8 432.5 417.1 433.8 420.5C435.2 423.9 436.8 427.3 437.9 430.7C439 434 440 437.4 440.5 440.8C441 444.2 440.7 447.5 440.9 450.9C441.1 454.3 441.4 457.7 441.9 461C442.4 464.4 443.5 468.2 444 471.2C444.4 474.2 444.5 476.3 444.8 479.1C445.1 482 445.9 485 446 488.2C446.2 491.4 446 495 445.6 498.4C445.3 501.7 444.7 505.5 444 508.5C443.3 511.5 442.6 514.1 441.6 516.6C440.5 519.1 438.9 521.5 437.5 523.7C436.2 525.9 434.8 527.9 433.5 529.8C432.1 531.6 430.8 533.3 429.4 534.8C428.1 536.4 426.7 537.9 425.4 538.9C424 539.9 422.8 540.4 421.3 540.9C419.8 541.4 417.1 541.8 416.2 541.9"/>
<path d="M483.1 357.9C482.3 357.7 480 356.7 478.4 356.5C476.8 356.3 474.7 356 473.3 356.5C472 357 470.6 358 470.3 359.5C470 361.1 470.6 363.6 471.3 365.6C472 367.6 473 369.8 474.3 371.7C475.7 373.6 477.7 375.4 479.4 376.8C481.1 378.1 482.9 379 484.5 380C486.1 381 487.4 381.8 488.9 382.9C490.5 384 492.7 385.2 494 386.5C495.3 387.8 496.3 389.3 496.9 390.9C497.6 392.4 497.6 394.2 497.9 395.9C498.2 397.6 498.5 399.4 498.8 401C499 402.6 499.6 404.1 499.4 405.3C499.1 406.5 498 407.3 497.3 408.2C496.7 409.2 495.8 410.1 495.5 411.1C495.1 412.1 494.9 413 495.2 414C495.4 415 495.9 416.1 496.9 416.9C497.9 417.7 499.6 418.2 501.2 418.8C502.9 419.3 505.1 419.7 507 420.2C509 420.8 510.9 421.4 512.8 422C514.8 422.5 516.7 422.9 518.6 423.4C520.5 423.9 522.6 424.5 524.4 425.2C526.2 425.8 528.4 426.5 529.5 427C530.5 427.6 530.7 428.2 530.9 428.5"/>
<path d="M187.3 417.1C187.6 418 188.8 420.8 189.3 422.5C189.8 424.3 189.6 426.4 190.3 427.6C191 428.8 191.8 428.6 193.3 429.6C194.8 430.7 197 432.3 199.4 433.7C201.8 435 204.8 436.6 207.5 437.7C210.2 438.9 213.1 439.6 215.6 440.8C218.1 442 220.3 443.5 222.7 444.8C225.1 446.2 228.1 447.9 230 448.9C231.9 449.9 232.7 449.7 234.1 450.9C235.4 452.1 236.6 454 238.1 456C239.6 458 241.6 460.7 243.2 463.1C244.7 465.4 246 468 247.2 470.2C248.4 472.4 249.1 474.5 250.3 476.2C251.4 477.9 252.8 479.1 254.3 480.3C255.8 481.5 258 482.5 259.4 483.3C260.7 484.2 261.9 485 262.4 485.4"/>
<path d="M246.6 417.1C247.1 418 248.6 420.3 249.2 422.5C249.9 424.8 250.2 427.6 250.3 430.7C250.3 433.7 249.9 437.7 249.7 440.8C249.4 443.8 248.7 446.2 248.8 448.9C248.9 451.6 249.5 454.6 250.3 457C251 459.4 251.9 461.4 253.3 463.1C254.7 464.8 256.5 465.9 258.4 467.1C260.2 468.3 262.8 468.8 264.4 470.2C266.1 471.5 267.3 473.4 268.5 475.2C269.7 477.1 270.7 478.9 271.5 481.3C272.4 483.7 273 486.7 273.6 489.4C274.1 492.1 274.6 494.8 275 497.5C275.3 500.2 275.7 502.9 275.6 505.6C275.5 508.3 274.9 511.3 274.6 513.7C274.2 516.1 274.1 517.7 273.6 520C273 522.3 272.2 525.6 271.2 527.7C270.1 529.9 268.6 531.5 267.1 532.8C265.6 534.2 263.4 534.8 262.1 535.8C260.7 536.9 260.2 538.5 259 538.9C257.8 539.2 256 537.7 255 537.9C254 538 253.3 539.6 252.9 539.9"/>
<path d="M306 417.1C305.9 418.3 305.3 421.6 305.4 424.6C305.5 427.5 306.1 431.3 306.6 434.7C307 438.1 307.5 441.5 308 444.8C308.5 448.2 308.9 451.6 309.4 455C309.9 458.3 310.4 461.7 311 465.1C311.6 468.5 312.4 471.8 313.1 475.2C313.7 478.6 314.6 482.3 315.1 485.4C315.6 488.4 315.6 490.8 316.1 493.5C316.6 496.2 317.6 499 318.1 501.6C318.6 504.1 318.6 505.8 319.1 508.7C319.5 511.6 320.4 515.4 320.8 518.8C321.2 522.2 321.5 525.6 321.7 528.9C321.8 532.3 321.8 535.7 321.7 539.1C321.5 542.5 321.2 546.1 320.8 549.2C320.4 552.3 320 555.4 319.1 557.9C318.2 560.4 317 562.6 315.5 564.4C313.9 566.2 311.7 567.3 309.7 568.7C307.6 570.2 305.2 571.6 303.2 573.1C301.1 574.6 298.3 576.9 297.4 577.7"/>
<path d="M365.3 417.1C364.7 418 362.8 420.5 361.7 422.5C360.6 424.6 359.6 427.1 358.7 429.6C357.7 432.2 356.8 434.9 356 437.7C355.2 440.6 354.5 443.7 354 446.9C353.5 450.1 353.1 453.6 353 457C352.8 460.4 353 463.7 353.2 467.1C353.4 470.5 353.8 475.4 354 477.3C354.2 479.1 354.1 476.9 354.4 478.1C354.8 479.3 355.7 481.5 356.1 484.2C356.4 486.9 356.6 490.2 356.5 494.3C356.4 498.4 355.6 504.6 355.5 508.7C355.5 512.8 355.8 515.4 356 518.8C356.1 522.2 356.4 525.6 356.4 528.9C356.4 532.3 356.2 535.9 356 539.1C355.8 542.2 355.5 544.9 355.3 547.8C355 550.7 355 553.8 354.5 556.4C354 559.1 353.4 561.5 352.4 563.7C351.3 565.8 349.7 567.9 348 569.5C346.3 571 344 572 342.2 573.1C340.4 574.2 338.7 575.2 337.2 576C335.6 576.7 333.5 577.4 332.8 577.7"/>
<path d="M424.3 417.1C424 418.3 423.3 422 422.7 424.6C422.1 427.2 421.2 429.6 420.7 432.7C420.1 435.7 419.6 439.4 419.2 442.8C418.9 446.2 418.6 449.9 418.6 452.9C418.7 456 419.1 458.3 419.6 461C420.1 463.7 421 466.6 421.7 469.1C422.3 471.6 423.3 473.9 423.7 476C424 478.2 424.1 479.1 423.7 482.2C423.3 485.2 422 490.6 421.3 494.3C420.6 498 420 501.1 419.3 504.4C418.6 507.8 418.1 511.2 417.3 514.6C416.4 517.9 415.3 521.3 414.2 524.7C413.1 528.1 411.9 531.5 410.8 534.8C409.6 538.2 408.4 541.6 407.1 545C405.8 548.3 404.4 552.1 403.1 555.1C401.7 558.1 400.2 560.7 399 563.2C397.8 565.7 396.8 568.4 396 570.3C395.1 572.1 394.3 573.7 394 574.3"/>
<path d="M483.2 416.9C483.8 417.1 485.7 417.5 486.8 418.4C487.9 419.2 488.5 420.8 489.7 422C490.9 423.2 492.6 424.8 494 425.6C495.4 426.4 496.6 426 497.9 426.6C499.2 427.2 500.6 428.2 502 429.2C503.4 430.2 504.9 431.5 506.3 432.4C507.8 433.2 509.2 434 510.7 434.3C512.1 434.6 513.7 434.5 515 434.3C516.3 434 517.3 433.1 518.6 432.8C519.9 432.6 521.7 432.6 523 432.8C524.2 433.1 525.1 433.4 525.8 434.3C526.6 435.1 527 437 527.3 437.9C527.6 438.8 527.7 438.5 527.8 439.5C527.9 440.5 528 442.1 527.8 443.9C527.6 445.6 527.1 448.1 526.7 449.9C526.4 451.8 525.9 453.5 525.7 455.2C525.5 456.8 525.4 458.4 525.4 459.9C525.3 461.5 525.1 464.1 525.4 464.4C525.8 464.7 526.8 462.9 527.3 461.8C527.8 460.7 528.2 459.1 528.4 457.8C528.6 456.4 528.7 454.9 528.7 453.4C528.6 451.9 528.5 450.2 528.3 448.6C528.2 447 527.9 444.7 527.8 443.9"/>
<path d="M187.3 476C187.5 477.3 188.4 480.9 188.7 483.3C188.9 485.7 189 488.2 188.9 490.4C188.7 492.6 188.2 495 187.7 496.5C187.1 498 186 499 185.6 499.5"/>
<path d="M246.5 476.1C246.5 477.4 246.6 481.5 246.5 484.2C246.4 486.9 246.3 489.6 245.8 492.3C245.4 495 244.8 497.9 243.8 500.4C242.8 502.9 241.3 505.1 239.8 507.5C238.2 509.8 236.4 512.7 234.7 514.6C233 516.4 231.3 517.6 229.6 518.6C227.9 519.6 225.9 520.8 224.6 520.7C223.2 520.5 221.9 519.3 221.5 517.6C221.2 515.9 222.5 512 222.5 510.5C222.6 509 222.3 508 221.9 508.5C221.6 509 221.1 511.5 220.5 513.6C219.9 515.6 219.3 518.6 218.5 520.7C217.7 522.7 216.6 524.4 215.5 525.7C214.3 527.1 212.9 528.4 211.4 528.8C209.9 529.1 207.9 527.6 206.3 527.7C204.8 527.9 203.4 528.8 202.3 529.8C201.2 530.8 200.4 532.5 199.9 533.8C199.3 535.1 199.3 536.9 199.2 537.5"/>
<path d="M305.6 476.1C305.5 477.8 305.5 482.5 305.2 486.2C304.9 489.9 304.5 494.3 304 498.4C303.5 502.4 302.9 506.8 302.2 510.5C301.4 514.2 300.7 517.3 299.5 520.7C298.4 524 297 527.6 295.5 530.8C294 534 292.3 537 290.4 539.9C288.6 542.8 286.4 546 284.3 548C282.3 550 280.3 551.7 278.3 552.1C276.2 552.4 274.4 550.9 272.2 550C270 549.1 267.5 547.1 265.1 546.6C262.7 546.1 260.2 546.2 258 547C255.8 547.7 254.1 549.2 251.9 551C249.7 552.9 247 555.9 244.8 558.1C242.6 560.3 240.8 562.4 238.8 564.2C236.7 566.1 234.7 567.9 232.7 569.3C230.7 570.6 228.6 571.3 226.6 572.3C224.6 573.3 222.4 574.3 220.5 575.4C218.7 576.4 216.8 577.5 215.5 578.4C214.1 579.2 212.9 580.1 212.4 580.4"/>
<path d="M365 476.1C364.6 477.4 363.3 481.5 362.5 484.2C361.8 486.9 361.1 489.6 360.5 492.3C359.9 495 359.4 497.7 358.9 500.4C358.4 503.1 358.2 505.6 357.4 508.7C356.7 511.8 355.6 515.7 354.5 518.8C353.4 521.9 352.4 524.6 350.9 527.5C349.5 530.4 347.5 533.3 345.8 536.2C344.2 539.1 342.5 542.2 340.8 544.9C339.1 547.5 337.6 549.9 335.7 552.1C333.8 554.3 331.5 556.2 329.2 557.9C326.9 559.6 324.1 560.8 322 562.2C319.8 563.7 317.5 565.1 316.2 566.6C314.9 568 314.4 569.1 314 570.9C313.6 572.8 313.6 576.6 313.6 577.7"/>
<path d="M424.3 476.1C424.4 477.8 424.9 482.8 424.9 486.2C424.9 489.6 424.7 493 424.3 496.3C424 499.7 423.6 503.1 422.9 506.5C422.2 509.8 421.2 513.4 420.3 516.6C419.3 519.8 418.3 522.7 417.3 525.7C416.2 528.8 415.2 531.6 414.2 534.8C413.2 538 412.2 541.6 411.2 545C410.2 548.3 409.1 551.7 408.1 555.1C407.1 558.5 405.9 562.2 405.1 565.2C404.2 568.3 403.6 571.3 403.1 573.3C402.6 575.4 402.2 576.7 402.1 577.4"/>
<path d="M483.3 476.1C483.7 477.4 485.3 481.1 485.9 484.2C486.6 487.2 486.9 490.9 487.4 494.3C487.8 497.7 488.4 501.1 488.8 504.4C489.1 507.8 489.4 511.4 489.4 514.6C489.3 517.8 489 521 488.4 523.7C487.7 526.4 486.5 528.9 485.3 530.8C484.1 532.6 482.6 532.8 481.3 534.8C479.9 536.9 478.7 539.9 477.2 542.9C475.7 546 473.8 549.7 472.2 553.1C470.5 556.4 468.6 560.2 467.1 563.2C465.6 566.2 464.1 569.1 463 571.3C462 573.5 461.4 575.5 461 576.4"/>
<path d="M246.5 534.8C245.8 535.8 243.9 538.7 242.8 540.9C241.7 543.1 241 546.1 239.8 548C238.6 549.9 237.4 550.9 235.7 552.1C234 553.2 231.7 553.7 229.6 555.1C227.6 556.4 225.4 558.5 223.6 560.2C221.7 561.8 220.4 563.9 218.5 565.2C216.6 566.6 214.1 567.3 212.4 568.3C210.7 569.3 209 570.8 208.4 571.3"/>
<path d="M305.6 534.8C304.6 535.8 301.7 538.5 299.5 540.9C297.3 543.3 294.8 546.3 292.4 549C290.1 551.7 287.7 554.6 285.4 557.1C283 559.7 280.6 562.4 278.3 564.2C275.9 566.1 273.7 567.4 271.2 568.3C268.6 569.2 265.8 569.5 263.1 569.7C260.4 569.9 257.7 569.7 255 569.3C252.3 568.9 249.4 567.9 246.9 567.3C244.3 566.6 242.1 565.6 239.8 565.2C237.4 564.8 234.9 564.7 232.7 564.8C230.5 565 228.6 565.5 226.6 566.2C224.6 567 222.4 568.1 220.5 569.3C218.7 570.5 216.7 572.1 215.5 573.3C214.2 574.5 213.4 575.9 213 576.4"/>
<path d="M365.1 535C364.3 535.9 362.1 538.6 360.3 540.5C358.6 542.4 356.6 544.4 354.5 546.3C352.5 548.2 350.3 550.2 348 552.1C345.7 554 343.2 556 340.8 557.9C338.4 559.8 336 561.7 333.5 563.7C331.1 565.6 328.5 567.9 326.3 569.5C324.1 571 322.2 572.1 320.5 573.1C318.8 574 317.3 574.5 316.2 575.3C315 576 314 577.3 313.6 577.7"/>
<path d="M424.3 534.8C423.5 535.3 421.1 536.4 419.3 537.9C417.4 539.4 415.2 541.8 413.2 544C411.2 546.1 409.1 548.5 407.1 551C405.1 553.6 403.1 556.8 401 559.1C399 561.5 396.8 563.4 395 565.2C393.1 567.1 391.6 568.4 389.9 570.3C388.2 572.2 385.7 575.7 384.8 576.8"/>
<path d="M483.3 534.8C482.3 535.3 479.4 536.9 477.2 537.9C475 538.9 472.3 540 470.1 540.9C467.9 541.8 465.7 542.7 464.1 543.3C462.4 544 461.7 543.8 460 545C458.3 546.1 455.9 548.2 453.7 550C451.5 551.9 449 553.9 446.6 556.1C444.3 558.3 441.7 560.8 439.5 563.2C437.3 565.6 435.1 568 433.5 570.3C431.8 572.6 430.1 575.7 429.4 576.8"/>
<path d="M542.7 534.8C541.7 535.5 539.1 537.5 537 538.9C534.9 540.2 532.3 541.4 529.9 542.9C527.5 544.5 525 546.1 522.8 548C520.6 549.9 518.4 551.9 516.7 554.1C515 556.3 514 558.8 512.7 561.2C511.3 563.5 510.1 566.2 508.6 568.3C507.1 570.3 505.4 572.1 503.6 573.3C501.7 574.6 499.1 575.2 497.5 575.8C495.9 576.4 494.6 576.8 494 577"/>
</g>
<g fill="#ff0000">
<circle cx="119" cy="156.5" r="3"/>
<circle cx="191.9" cy="195.6" r="3"/>
<circle cx="231" cy="201.9" r="3"/>
<circle cx="381.5" cy="116.9" r="3"/>
<circle cx="482.9" cy="170.5" r="3"/>
<circle cx="138.2" cy="241.6" r="3"/>
<circle cx="188.3" cy="237.8" r="3"/>
<circle cx="242.2" cy="254.6" r="3"/>
<circle cx="330.3" cy="171.9" r="3"/>
<circle cx="414.2" cy="220.1" r="3"/>
<circle cx="461.2" cy="217.3" r="3"/>
<circle cx="493.6" cy="263.5" r="3"/>
<circle cx="523.6" cy="301.4" r="3"/>
<circle cx="147.3" cy="303.4" r="3"/>
<circle cx="202.4" cy="270" r="3"/>
<circle cx="269.3" cy="288.2" r="3"/>
<circle cx="299.8" cy="245.9" r="3"/>
<circle cx="398.4" cy="293.1" r="3"/>
<circle cx="452.7" cy="312.1" r="3"/>
<circle cx="494" cy="330.6" r="3"/>
<circle cx="591" cy="297.7" r="3"/>
<circle cx="605.5" cy="227.8" r="3"/>
<circle cx="200.8" cy="308.9" r="3"/>
<circle cx="271.9" cy="332.4" r="3"/>
<circle cx="332.9" cy="312.9" r="3"/>
<circle cx="398.4" cy="338.7" r="3"/>
<circle cx="445" cy="362.8" r="3"/>
<circle cx="484.9" cy="367.2" r="3"/>
<circle cx="572.6" cy="327.3" r="3"/>
<circle cx="223.3" cy="400.7" r="3"/>
<circle cx="290.6" cy="449.1" r="3"/>
<circle cx="331.7" cy="451.5" r="3"/>
<circle cx="363.7" cy="450.3" r="3"/>
<circle cx="411.8" cy="541.5" r="3"/>
<circle cx="532.4" cy="429.9" r="3"/>
<circle cx="264.2" cy="488.2" r="3"/>
<circle cx="251.3" cy="540.9" r="3"/>
</g>
<path d="M575.8 452H641.7M575.8 445V458.5M641.7 445V458.5" stroke="#000" stroke-width="1.7" fill="none"/>
<text x="608.7" y="447.3" font-family="Liberation Sans, sans-serif" font-weight="bold" font-size="14" text-anchor="middle" textLength="44" lengthAdjust="spacingAndGlyphs" style="will-change:transform">10 km</text>
<g fill="none" stroke-width="1"><path d="M64.5 57.5H678.5M64.5 57.5V676.5" stroke="#b4b4b4"/><path d="M678.5 57.5V676.5M64.5 676.5H678.5" stroke="#989898"/><rect x="71.5" y="63.5" width="601" height="607" stroke="#b4b4b4"/><path d="M64.5 57.5L71.5 63.5M678.5 57.5L672.5 63.5M64.5 676.5L71.5 670.5M678.5 676.5L672.5 670.5" stroke="#666" stroke-width="1.1"/><path d="M64.5 670.5V676.5M108.5 670.5V676.5" stroke="#8c8c8c"/><path d="M67.5 673.5H108.5" stroke="#787878"/><path d="M108.5 57.5V63.5M152.5 57.5V63.5" stroke="#8c8c8c"/><path d="M108.5 60.5H152.5" stroke="#787878"/><path d="M152.5 670.5V676.5M211 670.5V676.5" stroke="#8c8c8c"/><path d="M152.5 673.5H211" stroke="#787878"/><path d="M211 57.5V63.5M269.5 57.5V63.5" stroke="#8c8c8c"/><path d="M211 60.5H269.5" stroke="#787878"/><path d="M269.5 670.5V676.5M328 670.5V676.5" stroke="#8c8c8c"/><path d="M269.5 673.5H328" stroke="#787878"/><path d="M328 57.5V63.5M386.5 57.5V63.5" stroke="#8c8c8c"/><path d="M328 60.5H386.5" stroke="#787878"/><path d="M386.5 670.5V676.5M445 670.5V676.5" stroke="#8c8c8c"/><path d="M386.5 673.5H445" stroke="#787878"/><path d="M445 57.5V63.5M503.5 57.5V63.5" stroke="#8c8c8c"/><path d="M445 60.5H503.5" stroke="#787878"/><path d="M503.5 670.5V676.5M562 670.5V676.5" stroke="#8c8c8c"/><path d="M503.5 673.5H562" stroke="#787878"/><path d="M562 57.5V63.5M620.5 57.5V63.5" stroke="#8c8c8c"/><path d="M562 60.5H620.5" stroke="#787878"/><path d="M620.5 670.5V676.5M649.5 670.5V676.5" stroke="#8c8c8c"/><path d="M620.5 673.5H649.5" stroke="#787878"/><path d="M649.5 57.5V63.5M678.5 57.5V63.5" stroke="#8c8c8c"/><path d="M649.5 60.5H675.5" stroke="#787878"/><path d="M672.5 57.5H678.5M672.5 76H678.5" stroke="#a0a0a0"/><path d="M675.5 60.5V76" stroke="#707070"/><path d="M64.5 76H71.5M64.5 94.5H71.5" stroke="#a0a0a0"/><path d="M68 76V94.5" stroke="#b8b8b8" stroke-width="2"/><path d="M672.5 94.5H678.5M672.5 155.5H678.5" stroke="#a0a0a0"/><path d="M675.5 94.5V155.5" stroke="#707070"/><path d="M64.5 155.5H71.5M64.5 216.5H71.5" stroke="#a0a0a0"/><path d="M68 155.5V216.5" stroke="#b8b8b8" stroke-width="2"/><path d="M672.5 216.5H678.5M672.5 277H678.5" stroke="#a0a0a0"/><path d="M675.5 216.5V277" stroke="#707070"/><path d="M64.5 277H71.5M64.5 337.5H71.5" stroke="#a0a0a0"/><path d="M68 277V337.5" stroke="#b8b8b8" stroke-width="2"/><path d="M672.5 337.5H678.5M672.5 398H678.5" stroke="#a0a0a0"/><path d="M675.5 337.5V398" stroke="#707070"/><path d="M64.5 398H71.5M64.5 458.5H71.5" stroke="#a0a0a0"/><path d="M68 398V458.5" stroke="#b8b8b8" stroke-width="2"/><path d="M672.5 458.5H678.5M672.5 519.5H678.5" stroke="#a0a0a0"/><path d="M675.5 458.5V519.5" stroke="#707070"/><path d="M64.5 519.5H71.5M64.5 580.5H71.5" stroke="#a0a0a0"/><path d="M68 519.5V580.5" stroke="#b8b8b8" stroke-width="2"/><path d="M672.5 580.5H678.5M672.5 628.5H678.5" stroke="#a0a0a0"/><path d="M675.5 580.5V628.5" stroke="#707070"/><path d="M64.5 628.5H71.5M64.5 676.5H71.5" stroke="#a0a0a0"/><path d="M68 628.5V673.5" stroke="#b8b8b8" stroke-width="2"/></g>
<path d="M152.5 51.2V57.5M152.5 677V682.6M269.5 51.2V57.5M269.5 677V682.6M386.5 51.2V57.5M386.5 677V682.6M503.5 51.2V57.5M503.5 677V682.6M620.5 51.2V57.5M620.5 677V682.6M58.3 94.1H64.5M679 94H684.9M58.3 216.1H64.5M679 216H684.9M58.3 337.1H64.5M679 337H684.9M58.3 458.1H64.5M679 458H684.9M58.3 580.1H64.5M679 580H684.9" stroke="#000" stroke-width="2" fill="none"/>
<g font-family="Liberation Sans, sans-serif" fill="#000" style="will-change:transform">
<text x="222.3" y="23.9" font-size="19.6" textLength="302" lengthAdjust="spacingAndGlyphs">MNTY: From 24–May–2011 09:00</text>
<text x="245.3" y="46.2" font-size="19.6" textLength="253.9" lengthAdjust="spacingAndGlyphs">to 25–May–2011 09:00 GMT</text>
<text x="12.7" y="101.8" font-size="17" textLength="20.3" lengthAdjust="spacingAndGlyphs">37</text>
<text x="33.1" y="92.8" font-size="13.3">o</text>
<text x="40.4" y="101.8" font-size="17" textLength="14.0" lengthAdjust="spacingAndGlyphs">N</text>
<text x="37.7" y="220.8" font-size="14.2" textLength="18.8" lengthAdjust="spacingAndGlyphs">50'</text>
<text x="37.7" y="341.8" font-size="14.2" textLength="18.8" lengthAdjust="spacingAndGlyphs">40'</text>
<text x="37.7" y="462.8" font-size="14.2" textLength="18.8" lengthAdjust="spacingAndGlyphs">30'</text>
<text x="37.7" y="584.8" font-size="14.2" textLength="18.8" lengthAdjust="spacingAndGlyphs">20'</text>
<text x="143.7" y="694.7" font-size="14.2" textLength="18.8" lengthAdjust="spacingAndGlyphs">36'</text>
<text x="260.7" y="694.7" font-size="14.2" textLength="18.8" lengthAdjust="spacingAndGlyphs">24'</text>
<text x="377.7" y="694.7" font-size="14.2" textLength="18.8" lengthAdjust="spacingAndGlyphs">12'</text>
<text x="611.7" y="694.7" font-size="14.2" textLength="18.8" lengthAdjust="spacingAndGlyphs">48'</text>
<text x="475.9" y="703.5" font-size="17" textLength="29.8" lengthAdjust="spacingAndGlyphs">122</text>
<text x="506.2" y="695.2" font-size="13.3">o</text>
<text x="514.3" y="703.5" font-size="17" textLength="16.6" lengthAdjust="spacingAndGlyphs">W</text>
</g>
</svg>
</body></html>
